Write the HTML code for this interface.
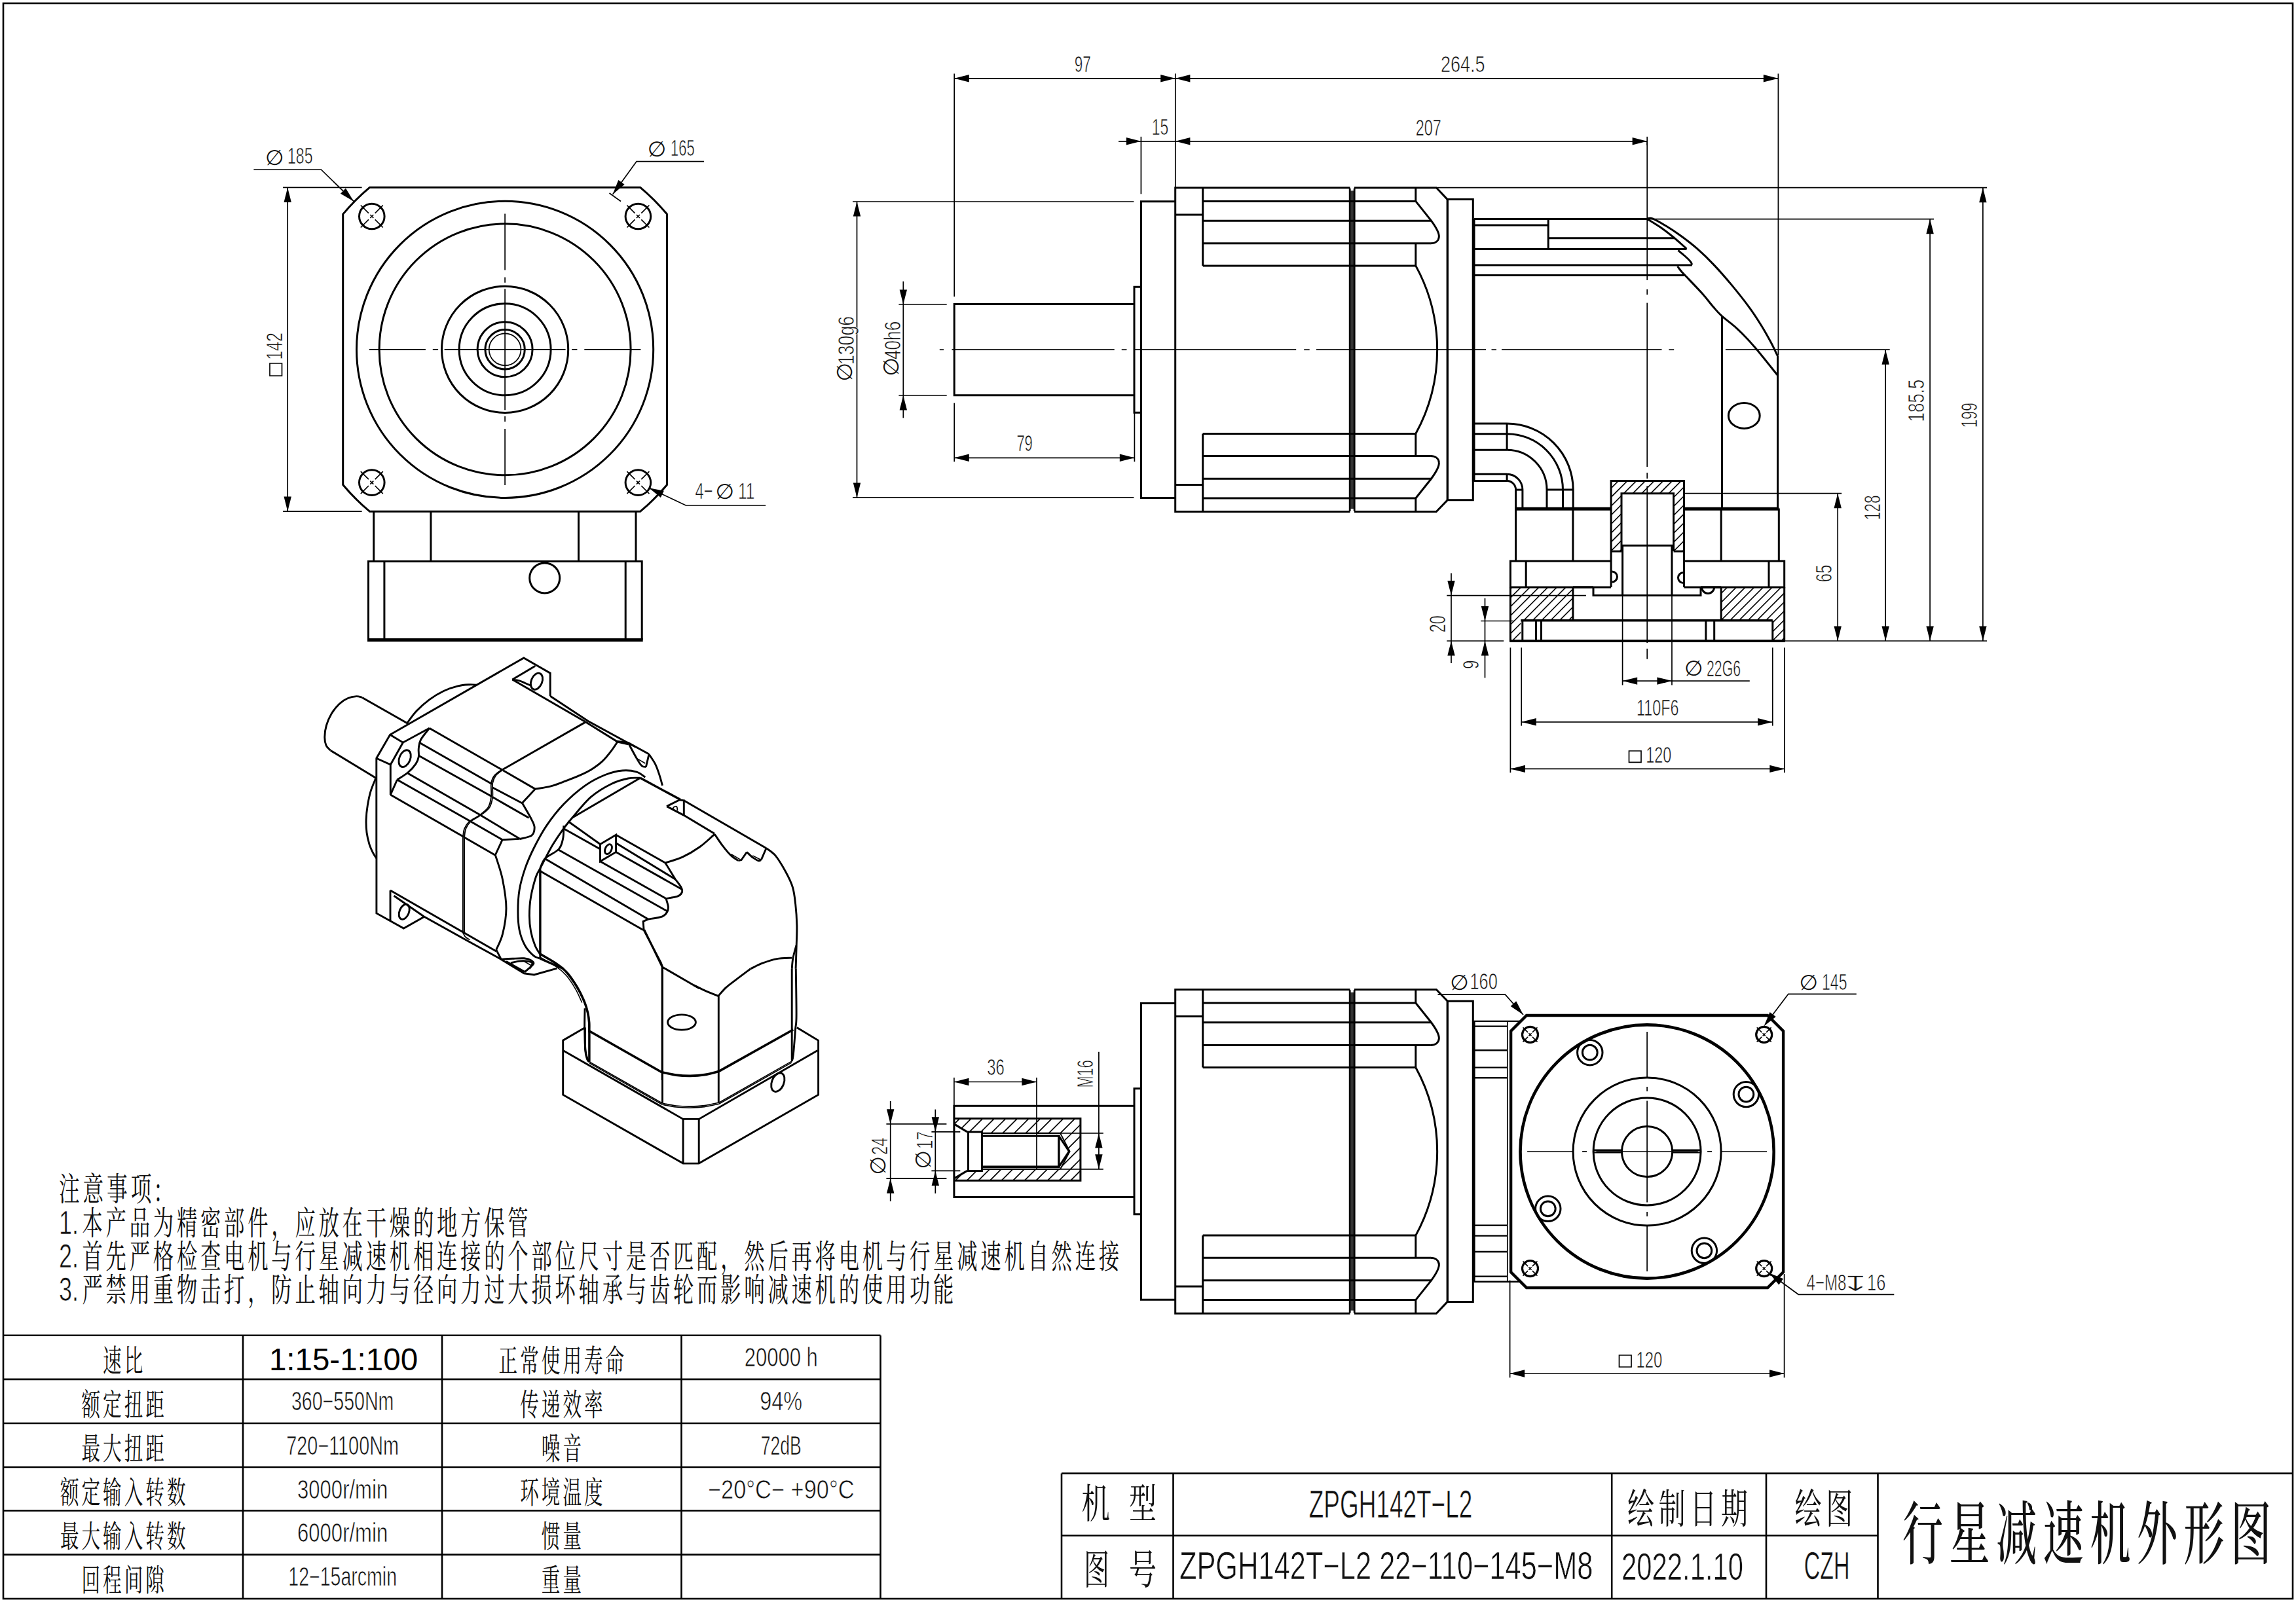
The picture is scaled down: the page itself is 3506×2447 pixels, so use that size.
<!DOCTYPE html>
<html lang="zh"><head><meta charset="utf-8"><title>行星减速机外形图 ZPGH142T-L2</title>
<style>html,body{margin:0;padding:0;background:#fff}svg{display:block}</style></head>
<body>
<svg width="3506" height="2447" viewBox="0 0 3506 2447">
<rect x="0" y="0" width="3506" height="2447" fill="#fff" stroke="none"/>
<g fill="none" stroke="#000" stroke-linecap="butt" stroke-linejoin="miter">
<rect x="5" y="5" width="3496" height="2437" stroke-width="2.6"/>
<path d="M564.4,286.3 L977.8,286.3 A322.4,322.4 0 0 1 1018.5,327.1 L1018.5,740.5 A322.4,322.4 0 0 1 977.8,781.2 L564.4,781.2 A322.4,322.4 0 0 1 523.7,740.5 L523.7,327.1 A322.4,322.4 0 0 1 564.4,286.3 Z" stroke-width="3.0"/>
<circle cx="771.1" cy="533.8" r="226.6" stroke-width="3.0"/>
<circle cx="771.1" cy="533.8" r="192" stroke-width="3.0"/>
<circle cx="771.1" cy="533.8" r="96.6" stroke-width="3.0"/>
<circle cx="771.1" cy="533.8" r="70" stroke-width="3.0"/>
<circle cx="771.1" cy="533.8" r="42" stroke-width="3.0"/>
<circle cx="771.1" cy="533.8" r="30.2" stroke-width="3.0"/>
<circle cx="771.1" cy="533.8" r="24.4" stroke-width="1.7"/>
<circle cx="567.8" cy="330.5" r="19.3" stroke-width="3.0"/>
<line x1="550.8" y1="313.5" x2="562.9" y2="325.6" stroke-width="1.7"/>
<line x1="565.3" y1="328" x2="570.3" y2="333" stroke-width="1.7"/>
<line x1="572.7" y1="335.4" x2="584.8" y2="347.5" stroke-width="1.7"/>
<line x1="550.8" y1="347.5" x2="562.9" y2="335.4" stroke-width="1.7"/>
<line x1="565.3" y1="333" x2="570.3" y2="328" stroke-width="1.7"/>
<line x1="572.7" y1="325.6" x2="584.8" y2="313.5" stroke-width="1.7"/>
<circle cx="567.8" cy="737.1" r="19.3" stroke-width="3.0"/>
<line x1="550.8" y1="720.1" x2="562.9" y2="732.2" stroke-width="1.7"/>
<line x1="565.3" y1="734.6" x2="570.3" y2="739.6" stroke-width="1.7"/>
<line x1="572.7" y1="742" x2="584.8" y2="754.1" stroke-width="1.7"/>
<line x1="550.8" y1="754.1" x2="562.9" y2="742" stroke-width="1.7"/>
<line x1="565.3" y1="739.6" x2="570.3" y2="734.6" stroke-width="1.7"/>
<line x1="572.7" y1="732.2" x2="584.8" y2="720.1" stroke-width="1.7"/>
<circle cx="974.4" cy="330.5" r="19.3" stroke-width="3.0"/>
<line x1="957.4" y1="313.5" x2="969.5" y2="325.6" stroke-width="1.7"/>
<line x1="971.9" y1="328" x2="976.9" y2="333" stroke-width="1.7"/>
<line x1="979.3" y1="335.4" x2="991.4" y2="347.5" stroke-width="1.7"/>
<line x1="957.4" y1="347.5" x2="969.5" y2="335.4" stroke-width="1.7"/>
<line x1="971.9" y1="333" x2="976.9" y2="328" stroke-width="1.7"/>
<line x1="979.3" y1="325.6" x2="991.4" y2="313.5" stroke-width="1.7"/>
<circle cx="974.4" cy="737.1" r="19.3" stroke-width="3.0"/>
<line x1="957.4" y1="720.1" x2="969.5" y2="732.2" stroke-width="1.7"/>
<line x1="971.9" y1="734.6" x2="976.9" y2="739.6" stroke-width="1.7"/>
<line x1="979.3" y1="742" x2="991.4" y2="754.1" stroke-width="1.7"/>
<line x1="957.4" y1="754.1" x2="969.5" y2="742" stroke-width="1.7"/>
<line x1="971.9" y1="739.6" x2="976.9" y2="734.6" stroke-width="1.7"/>
<line x1="979.3" y1="732.2" x2="991.4" y2="720.1" stroke-width="1.7"/>
<line x1="563.8" y1="533.8" x2="649.9" y2="533.8" stroke-width="1.7"/>
<line x1="660.8" y1="533.8" x2="669.1" y2="533.8" stroke-width="1.7"/>
<line x1="678.6" y1="533.8" x2="863.6" y2="533.8" stroke-width="1.7"/>
<line x1="873.1" y1="533.8" x2="881.4" y2="533.8" stroke-width="1.7"/>
<line x1="892.3" y1="533.8" x2="978.4" y2="533.8" stroke-width="1.7"/>
<line x1="771.1" y1="326.5" x2="771.1" y2="412.6" stroke-width="1.7"/>
<line x1="771.1" y1="423.5" x2="771.1" y2="431.8" stroke-width="1.7"/>
<line x1="771.1" y1="441.3" x2="771.1" y2="626.3" stroke-width="1.7"/>
<line x1="771.1" y1="635.8" x2="771.1" y2="644.1" stroke-width="1.7"/>
<line x1="771.1" y1="655" x2="771.1" y2="741.1" stroke-width="1.7"/>
<line x1="570.7" y1="781.2" x2="570.7" y2="857.4" stroke-width="3.0"/>
<line x1="971" y1="781.2" x2="971" y2="857.4" stroke-width="3.0"/>
<line x1="657.9" y1="781.2" x2="657.9" y2="857.4" stroke-width="3.0"/>
<line x1="883.5" y1="781.2" x2="883.5" y2="857.4" stroke-width="3.0"/>
<polyline points="562.5,977 562.5,857.4 980.2,857.4 980.2,977" stroke-width="3.0"/>
<line x1="561" y1="977.6" x2="981.7" y2="977.6" stroke-width="5"/>
<line x1="586.9" y1="857.4" x2="586.9" y2="977" stroke-width="3.0"/>
<line x1="955.2" y1="857.4" x2="955.2" y2="977" stroke-width="3.0"/>
<circle cx="831.7" cy="882.9" r="23" stroke-width="3.0"/>
<line x1="432" y1="286.4" x2="552.6" y2="286.4" stroke-width="1.7"/>
<line x1="432" y1="781.2" x2="552.6" y2="781.2" stroke-width="1.7"/>
<line x1="439.2" y1="286.4" x2="439.2" y2="781.2" stroke-width="1.7"/>
<polygon points="439.2,286.4 444.9,309 433.5,309" fill="#000" stroke="none"/>
<polygon points="439.2,781.2 433.5,758.6 444.9,758.6" fill="#000" stroke="none"/>
<text x="0" y="0" font-family="Liberation Sans, sans-serif" font-size="35.9" fill="#111" stroke="#fff" stroke-width="0.7" textLength="41.7" lengthAdjust="spacingAndGlyphs" transform="translate(431.4 549.8) rotate(-90)">142</text>
<polygon points="412,555 430.5,555 430.5,574 412,574" stroke-width="1.7"/>
<polyline points="387.4,259 490.3,259 540.1,307.4" stroke-width="1.7"/>
<polygon points="540.1,307.4 519.9,295.7 527.9,287.6" fill="#000" stroke="none"/>
<text x="419.5" y="240.5" font-family="DejaVu Sans, Liberation Sans, sans-serif" font-size="32.6" fill="#111" stroke="none" text-anchor="middle" dominant-baseline="central">∅</text>
<text x="439" y="249.8" font-family="Liberation Sans, sans-serif" font-size="35.9" fill="#111" stroke="#fff" stroke-width="0.7" textLength="38.5" lengthAdjust="spacingAndGlyphs">185</text>
<polyline points="1075.1,246.6 972,246.6 935.7,296.8" stroke-width="1.7"/>
<polygon points="935.7,296.8 944.3,275.1 953.6,281.8" fill="#000" stroke="none"/>
<line x1="930.5" y1="295" x2="948" y2="307.5" stroke-width="1.7"/>
<text x="1003.3" y="227.8" font-family="DejaVu Sans, Liberation Sans, sans-serif" font-size="32.6" fill="#111" stroke="none" text-anchor="middle" dominant-baseline="central">∅</text>
<text x="1024" y="237.5" font-family="Liberation Sans, sans-serif" font-size="35.9" fill="#111" stroke="#fff" stroke-width="0.7" textLength="36.6" lengthAdjust="spacingAndGlyphs">165</text>
<polyline points="1169.2,772 1047.3,772 990.9,745.2" stroke-width="1.7"/>
<polygon points="990.9,745.2 1013.8,749.8 1008.9,760" fill="#000" stroke="none"/>
<text x="1061.5" y="762.4" font-family="Liberation Sans, sans-serif" font-size="35.9" fill="#111" stroke="#fff" stroke-width="0.7" textLength="27" lengthAdjust="spacingAndGlyphs">4−</text>
<text x="1107" y="751" font-family="DejaVu Sans, Liberation Sans, sans-serif" font-size="32.6" fill="#111" stroke="none" text-anchor="middle" dominant-baseline="central">∅</text>
<text x="1127" y="762.4" font-family="Liberation Sans, sans-serif" font-size="35.9" fill="#111" stroke="#fff" stroke-width="0.7" textLength="25.5" lengthAdjust="spacingAndGlyphs">11</text>
<polyline points="1742.4,438.2 1732,438.2 1732,630.2 1742.4,630.2" stroke-width="3.0"/>
<polyline points="1794.7,307.8 1742.4,307.8 1742.4,760.6 1794.7,760.6" stroke-width="3.0"/>
<polyline points="2061.5,286.8 1794.7,286.8 1794.7,781.6 2061.5,781.6" stroke-width="3.0"/>
<line x1="2064.7" y1="291.2" x2="2064.7" y2="777.2" stroke-width="5" stroke="#333"/>
<line x1="2061.2" y1="287.7" x2="2061.2" y2="780.7" stroke-width="2.8"/>
<line x1="2068.2" y1="287.7" x2="2068.2" y2="780.7" stroke-width="2.8"/>
<polyline points="2068,286.8 2193.3,286.8 2210.3,304.6 2210.3,763.8 2193.3,781.6 2068,781.6" stroke-width="3.0"/>
<line x1="1836.7" y1="286.8" x2="1836.7" y2="405.9" stroke-width="3.0"/>
<line x1="1794.7" y1="327.9" x2="1836.7" y2="327.9" stroke-width="3.0"/>
<line x1="1836.7" y1="307.4" x2="2161.8" y2="307.4" stroke-width="3.0"/>
<line x1="1836.7" y1="337.2" x2="2185" y2="337.2" stroke-width="3.0"/>
<line x1="1836.7" y1="371.8" x2="2184.5" y2="371.8" stroke-width="3.0"/>
<line x1="1836.7" y1="405.9" x2="2161.8" y2="405.9" stroke-width="3.0"/>
<line x1="2161.8" y1="286.8" x2="2161.8" y2="307.4" stroke-width="3.0"/>
<line x1="2161.8" y1="371.6" x2="2161.8" y2="405.9" stroke-width="3.0"/>
<path d="M2161.8,307.4 L2185.3,336.9 C2192,346 2198,356 2197.3,362 C2196.8,368 2192,371.8 2184.2,371.8" stroke-width="3.0"/>
<line x1="1836.7" y1="781.6" x2="1836.7" y2="662.5" stroke-width="3.0"/>
<line x1="1794.7" y1="740.5" x2="1836.7" y2="740.5" stroke-width="3.0"/>
<line x1="1836.7" y1="761" x2="2161.8" y2="761" stroke-width="3.0"/>
<line x1="1836.7" y1="731.2" x2="2185" y2="731.2" stroke-width="3.0"/>
<line x1="1836.7" y1="696.6" x2="2184.5" y2="696.6" stroke-width="3.0"/>
<line x1="1836.7" y1="662.5" x2="2161.8" y2="662.5" stroke-width="3.0"/>
<line x1="2161.8" y1="781.6" x2="2161.8" y2="761" stroke-width="3.0"/>
<line x1="2161.8" y1="696.8" x2="2161.8" y2="662.5" stroke-width="3.0"/>
<path d="M2161.8,761 L2185.3,731.5 C2192,722.4 2198,712.4 2197.3,706.4 C2196.8,700.4 2192,696.6 2184.2,696.6" stroke-width="3.0"/>
<path d="M2161.8,405.9 A267,267 0 0 1 2161.8,662.5" stroke-width="3.0"/>
<polygon points="2210.3,304.6 2249.3,304.6 2249.3,763.8 2210.3,763.8" stroke-width="3.0"/>
<polyline points="1742.4,1662.8 1732,1662.8 1732,1854.8 1742.4,1854.8" stroke-width="3.0"/>
<polyline points="1794.7,1532.4 1742.4,1532.4 1742.4,1985.2 1794.7,1985.2" stroke-width="3.0"/>
<polyline points="2061.5,1511.4 1794.7,1511.4 1794.7,2006.2 2061.5,2006.2" stroke-width="3.0"/>
<line x1="2064.7" y1="1515.8" x2="2064.7" y2="2001.8" stroke-width="5" stroke="#333"/>
<line x1="2061.2" y1="1512.3" x2="2061.2" y2="2005.3" stroke-width="2.8"/>
<line x1="2068.2" y1="1512.3" x2="2068.2" y2="2005.3" stroke-width="2.8"/>
<polyline points="2068,1511.4 2193.3,1511.4 2210.3,1529.2 2210.3,1988.4 2193.3,2006.2 2068,2006.2" stroke-width="3.0"/>
<line x1="1836.7" y1="1511.4" x2="1836.7" y2="1630.5" stroke-width="3.0"/>
<line x1="1794.7" y1="1552.5" x2="1836.7" y2="1552.5" stroke-width="3.0"/>
<line x1="1836.7" y1="1532" x2="2161.8" y2="1532" stroke-width="3.0"/>
<line x1="1836.7" y1="1561.8" x2="2185" y2="1561.8" stroke-width="3.0"/>
<line x1="1836.7" y1="1596.4" x2="2184.5" y2="1596.4" stroke-width="3.0"/>
<line x1="1836.7" y1="1630.5" x2="2161.8" y2="1630.5" stroke-width="3.0"/>
<line x1="2161.8" y1="1511.4" x2="2161.8" y2="1532" stroke-width="3.0"/>
<line x1="2161.8" y1="1596.2" x2="2161.8" y2="1630.5" stroke-width="3.0"/>
<path d="M2161.8,1532 L2185.3,1561.5 C2192,1570.6 2198,1580.6 2197.3,1586.6 C2196.8,1592.6 2192,1596.4 2184.2,1596.4" stroke-width="3.0"/>
<line x1="1836.7" y1="2006.2" x2="1836.7" y2="1887.1" stroke-width="3.0"/>
<line x1="1794.7" y1="1965.1" x2="1836.7" y2="1965.1" stroke-width="3.0"/>
<line x1="1836.7" y1="1985.6" x2="2161.8" y2="1985.6" stroke-width="3.0"/>
<line x1="1836.7" y1="1955.8" x2="2185" y2="1955.8" stroke-width="3.0"/>
<line x1="1836.7" y1="1921.2" x2="2184.5" y2="1921.2" stroke-width="3.0"/>
<line x1="1836.7" y1="1887.1" x2="2161.8" y2="1887.1" stroke-width="3.0"/>
<line x1="2161.8" y1="2006.2" x2="2161.8" y2="1985.6" stroke-width="3.0"/>
<line x1="2161.8" y1="1921.4" x2="2161.8" y2="1887.1" stroke-width="3.0"/>
<path d="M2161.8,1985.6 L2185.3,1956.1 C2192,1947 2198,1937 2197.3,1931 C2196.8,1925 2192,1921.2 2184.2,1921.2" stroke-width="3.0"/>
<path d="M2161.8,1630.5 A267,267 0 0 1 2161.8,1887.1" stroke-width="3.0"/>
<polygon points="2210.3,1529.2 2249.3,1529.2 2249.3,1988.4 2210.3,1988.4" stroke-width="3.0"/>
<polyline points="1732,464.6 1457.2,464.6 1457.2,603.8 1732,603.8" stroke-width="3.0"/>
<line x1="1434.8" y1="534.2" x2="1441" y2="534.2" stroke-width="1.7"/>
<line x1="1453.5" y1="534.2" x2="1701.7" y2="534.2" stroke-width="1.7"/>
<line x1="1712.7" y1="534.2" x2="1720.5" y2="534.2" stroke-width="1.7"/>
<line x1="1733" y1="534.2" x2="1979.2" y2="534.2" stroke-width="1.7"/>
<line x1="1991.2" y1="534.2" x2="1999.7" y2="534.2" stroke-width="1.7"/>
<line x1="2010" y1="534.2" x2="2269" y2="534.2" stroke-width="1.7"/>
<line x1="2277.5" y1="534.2" x2="2285" y2="534.2" stroke-width="1.7"/>
<line x1="2293" y1="534.2" x2="2537.5" y2="534.2" stroke-width="1.7"/>
<line x1="2548.4" y1="534.2" x2="2556.2" y2="534.2" stroke-width="1.7"/>
<line x1="2250.2" y1="334.6" x2="2250.2" y2="735.7" stroke-width="4.6"/>
<line x1="2251" y1="334.6" x2="2515.6" y2="334.6" stroke-width="3.0"/>
<line x1="2251" y1="344" x2="2364.2" y2="344" stroke-width="3.0"/>
<line x1="2364.2" y1="334.6" x2="2364.2" y2="380.5" stroke-width="3.0"/>
<line x1="2364.2" y1="363.7" x2="2556" y2="363.7" stroke-width="3.0"/>
<line x1="2251" y1="380.5" x2="2575.5" y2="380.5" stroke-width="3.0"/>
<line x1="2251" y1="404.9" x2="2583.8" y2="404.9" stroke-width="3.0"/>
<line x1="2251" y1="420.5" x2="2572.5" y2="420.5" stroke-width="3.0"/>
<path d="M2515.3,334.1 C2516.7,334 2518.7,332 2523.5,333.9 C2528.3,335.8 2537.2,341 2544.3,345.3 C2551.4,349.6 2558.2,354.1 2566,359.8 C2573.9,365.5 2582.9,372.3 2591.4,379.7 C2599.8,387.1 2608,394.9 2616.7,404.1 C2625.5,413.3 2634.8,424 2643.9,434.9 C2652.9,445.8 2663.5,459 2671,469.3 C2678.6,479.6 2683.7,487.7 2689.1,496.5 C2694.6,505.2 2699.4,514 2703.6,521.8 C2707.8,529.6 2712.4,539.6 2714.1,543.2" stroke-width="3.0"/>
<line x1="2714.6" y1="542.6" x2="2714.6" y2="776.3" stroke-width="3.0"/>
<path d="M2515.3,334.4 C2518.7,336.6 2528.9,342.7 2535.3,347.1 C2541.6,351.5 2548.2,356.6 2553.4,360.7 C2558.5,364.8 2562.4,368.3 2566,371.5 C2569.7,374.8 2573.9,378.6 2575.4,380.1" stroke-width="3.0"/>
<path d="M2562.4,382.4 C2564.2,383.9 2570.1,388.6 2573.3,391.5 C2576.4,394.3 2579.7,397.4 2581.4,399.6 C2583.2,401.8 2583.4,403.7 2583.8,404.5" stroke-width="3.0"/>
<path d="M2561.5,406.9 C2562.6,408.2 2565.9,412.7 2567.8,415 C2569.8,417.3 2568.1,415.4 2573.3,420.8 C2578.4,426.2 2591.4,439.5 2598.6,447.6 C2605.9,455.7 2611.6,463.4 2616.7,469.3 C2621.8,475.2 2623.4,477.4 2629.4,482.9 C2635.4,488.4 2644.5,494.3 2652.9,502.3 C2661.4,510.2 2669.9,519.1 2680.1,530.9 C2690.3,542.6 2708.4,565.9 2714.1,572.9" stroke-width="3.0"/>
<line x1="2629.5" y1="483.5" x2="2629.5" y2="776.3" stroke-width="3.0"/>
<ellipse cx="2663.3" cy="634.9" rx="23.9" ry="19.5" stroke-width="3.0"/>
<line x1="2251" y1="647" x2="2301.1" y2="647" stroke-width="3.0"/>
<line x1="2251" y1="662.7" x2="2301.1" y2="662.7" stroke-width="3.0"/>
<line x1="2251" y1="687.2" x2="2301.1" y2="687.2" stroke-width="3.0"/>
<line x1="2251" y1="724.3" x2="2301.1" y2="724.3" stroke-width="3.0"/>
<line x1="2251" y1="734.6" x2="2301.1" y2="734.6" stroke-width="3.0"/>
<line x1="2301.1" y1="647" x2="2301.1" y2="687.2" stroke-width="3.0"/>
<line x1="2301.1" y1="724.3" x2="2301.1" y2="734.6" stroke-width="3.0"/>
<path d="M2301.1,647 A101.1,101.1 0 0 1 2402.2,748.1" stroke-width="3.0"/>
<line x1="2402.2" y1="748.1" x2="2402.2" y2="776.5" stroke-width="3.0"/>
<path d="M2301.1,662.7 A85.4,85.4 0 0 1 2386.5,748.1" stroke-width="3.0"/>
<line x1="2386.5" y1="748.1" x2="2386.5" y2="776.5" stroke-width="3.0"/>
<path d="M2301.1,687.2 A60.9,60.9 0 0 1 2362,748.1" stroke-width="3.0"/>
<line x1="2362" y1="748.1" x2="2362" y2="776.5" stroke-width="3.0"/>
<path d="M2301.1,724.3 A23.8,23.8 0 0 1 2324.9,748.1" stroke-width="3.0"/>
<line x1="2324.9" y1="748.1" x2="2324.9" y2="776.5" stroke-width="3.0"/>
<path d="M2301.1,734.6 A13.5,13.5 0 0 1 2314.6,748.1" stroke-width="3.0"/>
<line x1="2314.6" y1="748.1" x2="2314.6" y2="776.5" stroke-width="3.0"/>
<line x1="2314.6" y1="748.1" x2="2324.9" y2="748.1" stroke-width="3.0"/>
<line x1="2362" y1="748.1" x2="2402.2" y2="748.1" stroke-width="3.0"/>
<line x1="2313.2" y1="777.2" x2="2461" y2="777.2" stroke-width="5"/>
<line x1="2570.9" y1="777.2" x2="2716.3" y2="777.2" stroke-width="5"/>
<line x1="2314.6" y1="776.5" x2="2314.6" y2="857.1" stroke-width="3.0"/>
<line x1="2716.3" y1="776.5" x2="2716.3" y2="857.1" stroke-width="3.0"/>
<line x1="2401.9" y1="776.5" x2="2401.9" y2="857.1" stroke-width="3.0"/>
<line x1="2628.2" y1="776.5" x2="2628.2" y2="857.1" stroke-width="3.0"/>
<clipPath id="h1"><polygon points="2460.1,734.6 2571.5,734.6 2571.5,842.1 2555.6,842.1 2555.6,753.7 2476,753.7 2476,842.1 2460.1,842.1"/></clipPath>
<g clip-path="url(#h1)" stroke-width="1.6"><line x1="2350" y1="842.1" x2="2457.5" y2="734.6"/><line x1="2363.7" y1="842.1" x2="2471.2" y2="734.6"/><line x1="2377.4" y1="842.1" x2="2484.9" y2="734.6"/><line x1="2391.1" y1="842.1" x2="2498.6" y2="734.6"/><line x1="2404.8" y1="842.1" x2="2512.3" y2="734.6"/><line x1="2418.5" y1="842.1" x2="2526" y2="734.6"/><line x1="2432.2" y1="842.1" x2="2539.7" y2="734.6"/><line x1="2445.9" y1="842.1" x2="2553.4" y2="734.6"/><line x1="2459.6" y1="842.1" x2="2567.1" y2="734.6"/><line x1="2473.3" y1="842.1" x2="2580.8" y2="734.6"/><line x1="2487" y1="842.1" x2="2594.5" y2="734.6"/><line x1="2500.7" y1="842.1" x2="2608.2" y2="734.6"/><line x1="2514.4" y1="842.1" x2="2621.9" y2="734.6"/><line x1="2528.1" y1="842.1" x2="2635.6" y2="734.6"/><line x1="2541.8" y1="842.1" x2="2649.3" y2="734.6"/><line x1="2555.5" y1="842.1" x2="2663" y2="734.6"/><line x1="2569.2" y1="842.1" x2="2676.7" y2="734.6"/></g>
<polyline points="2460.1,896.9 2460.1,734.6 2571.5,734.6 2571.5,896.9" stroke-width="3.0"/>
<polyline points="2476,842.1 2476,753.7 2555.6,753.7 2555.6,842.1" stroke-width="3.0"/>
<line x1="2460.1" y1="842.1" x2="2476" y2="842.1" stroke-width="3.0"/>
<line x1="2555.6" y1="842.1" x2="2571.5" y2="842.1" stroke-width="3.0"/>
<line x1="2476" y1="833.2" x2="2555.6" y2="833.2" stroke-width="3.0"/>
<line x1="2477.6" y1="833.2" x2="2477.6" y2="909.6" stroke-width="3.0"/>
<line x1="2553" y1="833.2" x2="2553" y2="909.6" stroke-width="3.0"/>
<line x1="2477.6" y1="909.6" x2="2477.6" y2="1046.5" stroke-width="1.7"/>
<line x1="2553" y1="909.6" x2="2553" y2="1046.5" stroke-width="1.7"/>
<polyline points="2460.1,857.1 2306.4,857.1 2306.4,896.9 2460.1,896.9" stroke-width="3.0"/>
<polyline points="2571.5,857.1 2724.7,857.1 2724.7,896.9 2571.5,896.9" stroke-width="3.0"/>
<line x1="2330.2" y1="857.1" x2="2330.2" y2="896.9" stroke-width="3.0"/>
<line x1="2701" y1="857.1" x2="2701" y2="896.9" stroke-width="3.0"/>
<path d="M2461.5,873 A8,8 0 0 1 2461.5,889" stroke-width="3.0"/>
<path d="M2570.5,874.5 A8,8 0 0 0 2570.5,890.5" stroke-width="3.0"/>
<path d="M2598.6,896.9 A9.5,9.5 0 0 0 2617.6,896.9" stroke-width="3.0"/>
<clipPath id="h2"><polygon points="2306.4,896.9 2401.9,896.9 2401.9,947.8 2322.3,947.8 2322.3,979 2306.4,979"/></clipPath>
<g clip-path="url(#h2)" stroke-width="1.6"><line x1="2213.1" y1="979" x2="2295.2" y2="896.9"/><line x1="2226.8" y1="979" x2="2308.9" y2="896.9"/><line x1="2240.5" y1="979" x2="2322.6" y2="896.9"/><line x1="2254.2" y1="979" x2="2336.3" y2="896.9"/><line x1="2267.9" y1="979" x2="2350" y2="896.9"/><line x1="2281.6" y1="979" x2="2363.7" y2="896.9"/><line x1="2295.3" y1="979" x2="2377.4" y2="896.9"/><line x1="2309" y1="979" x2="2391.1" y2="896.9"/><line x1="2322.7" y1="979" x2="2404.8" y2="896.9"/><line x1="2336.4" y1="979" x2="2418.5" y2="896.9"/><line x1="2350.1" y1="979" x2="2432.2" y2="896.9"/><line x1="2363.8" y1="979" x2="2445.9" y2="896.9"/></g>
<clipPath id="h3"><polygon points="2628.2,896.9 2724.7,896.9 2724.7,979 2706.8,979 2706.8,947.8 2628.2,947.8"/></clipPath>
<g clip-path="url(#h3)" stroke-width="1.6"><line x1="2541.9" y1="979" x2="2624" y2="896.9"/><line x1="2555.6" y1="979" x2="2637.7" y2="896.9"/><line x1="2569.3" y1="979" x2="2651.4" y2="896.9"/><line x1="2583" y1="979" x2="2665.1" y2="896.9"/><line x1="2596.7" y1="979" x2="2678.8" y2="896.9"/><line x1="2610.4" y1="979" x2="2692.5" y2="896.9"/><line x1="2624.1" y1="979" x2="2706.2" y2="896.9"/><line x1="2637.8" y1="979" x2="2719.9" y2="896.9"/><line x1="2651.5" y1="979" x2="2733.6" y2="896.9"/><line x1="2665.2" y1="979" x2="2747.3" y2="896.9"/><line x1="2678.9" y1="979" x2="2761" y2="896.9"/><line x1="2692.6" y1="979" x2="2774.7" y2="896.9"/><line x1="2706.3" y1="979" x2="2788.4" y2="896.9"/><line x1="2720" y1="979" x2="2802.1" y2="896.9"/></g>
<polyline points="2306.4,896.9 2306.4,979" stroke-width="3.0"/>
<polyline points="2724.7,896.9 2724.7,979" stroke-width="3.0"/>
<line x1="2401.9" y1="896.9" x2="2401.9" y2="947.8" stroke-width="3.0"/>
<line x1="2628.2" y1="896.9" x2="2628.2" y2="947.8" stroke-width="3.0"/>
<line x1="2401.9" y1="896.9" x2="2433" y2="896.9" stroke-width="3.0"/>
<line x1="2597" y1="896.9" x2="2628.2" y2="896.9" stroke-width="3.0"/>
<polyline points="2433,896.9 2433,909.6 2597,909.6 2597,896.9" stroke-width="3.0"/>
<line x1="2322.3" y1="947.8" x2="2706.8" y2="947.8" stroke-width="3.4"/>
<line x1="2305" y1="979" x2="2726" y2="979" stroke-width="4"/>
<line x1="2324.8" y1="947.8" x2="2324.8" y2="979" stroke-width="3.0"/>
<line x1="2345.5" y1="947.8" x2="2345.5" y2="979" stroke-width="3.0"/>
<line x1="2353.5" y1="947.8" x2="2353.5" y2="979" stroke-width="3.0"/>
<line x1="2604.9" y1="947.8" x2="2604.9" y2="979" stroke-width="3.0"/>
<line x1="2617.7" y1="947.8" x2="2617.7" y2="979" stroke-width="3.0"/>
<line x1="2706.8" y1="947.8" x2="2706.8" y2="979" stroke-width="3.0"/>
<line x1="2515.2" y1="215.8" x2="2515.2" y2="428" stroke-width="1.7"/>
<line x1="2515.2" y1="442" x2="2515.2" y2="450" stroke-width="1.7"/>
<line x1="2515.2" y1="462.6" x2="2515.2" y2="713" stroke-width="1.7"/>
<line x1="2515.2" y1="722" x2="2515.2" y2="731" stroke-width="1.7"/>
<line x1="2515.2" y1="742.5" x2="2515.2" y2="982" stroke-width="1.7"/>
<line x1="2515.2" y1="990.8" x2="2515.2" y2="1006.7" stroke-width="1.7"/>
<line x1="1457.2" y1="112.4" x2="1457.2" y2="453" stroke-width="1.7"/>
<line x1="1794.8" y1="112.4" x2="1794.8" y2="287" stroke-width="1.7"/>
<line x1="2715.4" y1="112.4" x2="2715.4" y2="542" stroke-width="1.7"/>
<line x1="1457.2" y1="119.8" x2="2715.4" y2="119.8" stroke-width="1.7"/>
<polygon points="1457.2,119.8 1479.8,114.1 1479.8,125.5" fill="#000" stroke="none"/>
<polygon points="1794.8,119.8 1772.2,125.5 1772.2,114.1" fill="#000" stroke="none"/>
<polygon points="1794.8,119.8 1817.4,114.1 1817.4,125.5" fill="#000" stroke="none"/>
<polygon points="2715.4,119.8 2692.8,125.5 2692.8,114.1" fill="#000" stroke="none"/>
<text x="1640.8" y="109.8" font-family="Liberation Sans, sans-serif" font-size="35.9" fill="#111" stroke="#fff" stroke-width="0.7" textLength="25.1" lengthAdjust="spacingAndGlyphs">97</text>
<text x="2199.9" y="110.2" font-family="Liberation Sans, sans-serif" font-size="35.9" fill="#111" stroke="#fff" stroke-width="0.7" textLength="67.8" lengthAdjust="spacingAndGlyphs">264.5</text>
<line x1="1742.4" y1="208.8" x2="1742.4" y2="296.3" stroke-width="1.7"/>
<line x1="1708" y1="215.8" x2="2515.2" y2="215.8" stroke-width="1.7"/>
<polygon points="1742.4,215.8 1719.8,221.5 1719.8,210.1" fill="#000" stroke="none"/>
<polygon points="1794.8,215.8 1817.4,210.1 1817.4,221.5" fill="#000" stroke="none"/>
<polygon points="2515.2,215.8 2492.6,221.5 2492.6,210.1" fill="#000" stroke="none"/>
<line x1="2515.2" y1="208.8" x2="2515.2" y2="222" stroke-width="1.7"/>
<text x="1758.8" y="206.1" font-family="Liberation Sans, sans-serif" font-size="35.9" fill="#111" stroke="#fff" stroke-width="0.7" textLength="25.4" lengthAdjust="spacingAndGlyphs">15</text>
<text x="2161.7" y="206.8" font-family="Liberation Sans, sans-serif" font-size="35.9" fill="#111" stroke="#fff" stroke-width="0.7" textLength="39.1" lengthAdjust="spacingAndGlyphs">207</text>
<line x1="1302" y1="308" x2="1731.4" y2="308" stroke-width="1.7"/>
<line x1="1302" y1="760.2" x2="1731.4" y2="760.2" stroke-width="1.7"/>
<line x1="1308.5" y1="308" x2="1308.5" y2="760.2" stroke-width="1.7"/>
<polygon points="1308.5,308 1314.2,330.6 1302.8,330.6" fill="#000" stroke="none"/>
<polygon points="1308.5,760.2 1302.8,737.6 1314.2,737.6" fill="#000" stroke="none"/>
<text x="0" y="0" font-family="Liberation Sans, sans-serif" font-size="35.9" fill="#111" stroke="#fff" stroke-width="0.7" textLength="74" lengthAdjust="spacingAndGlyphs" transform="translate(1303.9 557) rotate(-90)">130g6</text>
<text x="0" y="0" font-family="DejaVu Sans, Liberation Sans, sans-serif" font-size="32.6" fill="#111" stroke="none" text-anchor="middle" transform="translate(1290 568) rotate(-90)" dominant-baseline="central">∅</text>
<line x1="1372.4" y1="465" x2="1445.7" y2="465" stroke-width="1.7"/>
<line x1="1372.4" y1="604" x2="1445.7" y2="604" stroke-width="1.7"/>
<line x1="1379.3" y1="429.8" x2="1379.3" y2="638.4" stroke-width="1.7"/>
<polygon points="1379.3,465 1373.6,442.4 1385,442.4" fill="#000" stroke="none"/>
<polygon points="1379.3,604 1385,626.6 1373.6,626.6" fill="#000" stroke="none"/>
<text x="0" y="0" font-family="Liberation Sans, sans-serif" font-size="35.9" fill="#111" stroke="#fff" stroke-width="0.7" textLength="58.2" lengthAdjust="spacingAndGlyphs" transform="translate(1374.9 549) rotate(-90)">40h6</text>
<text x="0" y="0" font-family="DejaVu Sans, Liberation Sans, sans-serif" font-size="32.6" fill="#111" stroke="none" text-anchor="middle" transform="translate(1361 560) rotate(-90)" dominant-baseline="central">∅</text>
<line x1="1457.2" y1="615.6" x2="1457.2" y2="705.2" stroke-width="1.7"/>
<line x1="1732.4" y1="630" x2="1732.4" y2="705.2" stroke-width="1.7"/>
<line x1="1457.2" y1="699.3" x2="1732.4" y2="699.3" stroke-width="1.7"/>
<polygon points="1457.2,699.3 1479.8,693.6 1479.8,705" fill="#000" stroke="none"/>
<polygon points="1732.4,699.3 1709.8,705 1709.8,693.6" fill="#000" stroke="none"/>
<text x="1552.4" y="689.4" font-family="Liberation Sans, sans-serif" font-size="35.9" fill="#111" stroke="#fff" stroke-width="0.7" textLength="24.4" lengthAdjust="spacingAndGlyphs">79</text>
<line x1="2195" y1="286.6" x2="3034" y2="286.6" stroke-width="1.7"/>
<line x1="2516" y1="334.6" x2="2953.1" y2="334.6" stroke-width="1.7"/>
<line x1="2634.9" y1="534.2" x2="2885.7" y2="534.2" stroke-width="1.7"/>
<line x1="2571.5" y1="753.7" x2="2812.2" y2="753.7" stroke-width="1.7"/>
<line x1="2726" y1="979" x2="3034" y2="979" stroke-width="1.7"/>
<line x1="3027.9" y1="286.6" x2="3027.9" y2="979" stroke-width="1.7"/>
<polygon points="3027.9,286.6 3033.6,309.2 3022.2,309.2" fill="#000" stroke="none"/>
<polygon points="3027.9,979 3022.2,956.4 3033.6,956.4" fill="#000" stroke="none"/>
<line x1="2947.1" y1="334.6" x2="2947.1" y2="979" stroke-width="1.7"/>
<polygon points="2947.1,334.6 2952.8,357.2 2941.4,357.2" fill="#000" stroke="none"/>
<polygon points="2947.1,979 2941.4,956.4 2952.8,956.4" fill="#000" stroke="none"/>
<line x1="2879.2" y1="534.2" x2="2879.2" y2="979" stroke-width="1.7"/>
<polygon points="2879.2,534.2 2884.9,556.8 2873.5,556.8" fill="#000" stroke="none"/>
<polygon points="2879.2,979 2873.5,956.4 2884.9,956.4" fill="#000" stroke="none"/>
<line x1="2806.2" y1="753.7" x2="2806.2" y2="979" stroke-width="1.7"/>
<polygon points="2806.2,753.7 2811.9,776.3 2800.5,776.3" fill="#000" stroke="none"/>
<polygon points="2806.2,979 2800.5,956.4 2811.9,956.4" fill="#000" stroke="none"/>
<text x="0" y="0" font-family="Liberation Sans, sans-serif" font-size="35.9" fill="#111" stroke="#fff" stroke-width="0.7" textLength="38.5" lengthAdjust="spacingAndGlyphs" transform="translate(3019.1 653.6) rotate(-90)">199</text>
<text x="0" y="0" font-family="Liberation Sans, sans-serif" font-size="35.9" fill="#111" stroke="#fff" stroke-width="0.7" textLength="64.9" lengthAdjust="spacingAndGlyphs" transform="translate(2938.3 644.4) rotate(-90)">185.5</text>
<text x="0" y="0" font-family="Liberation Sans, sans-serif" font-size="35.9" fill="#111" stroke="#fff" stroke-width="0.7" textLength="38.1" lengthAdjust="spacingAndGlyphs" transform="translate(2871.3 794.5) rotate(-90)">128</text>
<text x="0" y="0" font-family="Liberation Sans, sans-serif" font-size="35.9" fill="#111" stroke="#fff" stroke-width="0.7" textLength="26.5" lengthAdjust="spacingAndGlyphs" transform="translate(2797.4 889.2) rotate(-90)">65</text>
<line x1="2209.3" y1="909.6" x2="2421.9" y2="909.6" stroke-width="1.7"/>
<line x1="2209.3" y1="979" x2="2296.2" y2="979" stroke-width="1.7"/>
<line x1="2216" y1="875.6" x2="2216" y2="1013" stroke-width="1.7"/>
<polygon points="2216,909.6 2210.3,887 2221.7,887" fill="#000" stroke="none"/>
<polygon points="2216,979 2221.7,1001.6 2210.3,1001.6" fill="#000" stroke="none"/>
<line x1="2261.2" y1="948.5" x2="2311.1" y2="948.5" stroke-width="1.7"/>
<line x1="2267.5" y1="913.8" x2="2267.5" y2="1035.4" stroke-width="1.7"/>
<polygon points="2267.5,948.5 2261.8,925.9 2273.2,925.9" fill="#000" stroke="none"/>
<polygon points="2267.5,979 2273.2,1001.6 2261.8,1001.6" fill="#000" stroke="none"/>
<text x="0" y="0" font-family="Liberation Sans, sans-serif" font-size="35.9" fill="#111" stroke="#fff" stroke-width="0.7" textLength="26.3" lengthAdjust="spacingAndGlyphs" transform="translate(2207.4 966.3) rotate(-90)">20</text>
<text x="0" y="0" font-family="Liberation Sans, sans-serif" font-size="35.9" fill="#111" stroke="#fff" stroke-width="0.7" textLength="13.6" lengthAdjust="spacingAndGlyphs" transform="translate(2258.4 1022) rotate(-90)">9</text>
<line x1="2477.6" y1="1040.1" x2="2671.8" y2="1040.1" stroke-width="1.7"/>
<polygon points="2477.6,1040.1 2500.2,1034.4 2500.2,1045.8" fill="#000" stroke="none"/>
<polygon points="2553,1040.1 2530.4,1045.8 2530.4,1034.4" fill="#000" stroke="none"/>
<text x="2586.5" y="1020.5" font-family="DejaVu Sans, Liberation Sans, sans-serif" font-size="32.6" fill="#111" stroke="none" text-anchor="middle" dominant-baseline="central">∅</text>
<text x="2606" y="1032.6" font-family="Liberation Sans, sans-serif" font-size="35.9" fill="#111" stroke="#fff" stroke-width="0.7" textLength="52" lengthAdjust="spacingAndGlyphs">22G6</text>
<line x1="2323.2" y1="989.2" x2="2323.2" y2="1108.6" stroke-width="1.7"/>
<line x1="2706.8" y1="989.2" x2="2706.8" y2="1108.6" stroke-width="1.7"/>
<line x1="2323.2" y1="1102.8" x2="2706.8" y2="1102.8" stroke-width="1.7"/>
<polygon points="2323.2,1102.8 2345.8,1097.1 2345.8,1108.5" fill="#000" stroke="none"/>
<polygon points="2706.8,1102.8 2684.2,1108.5 2684.2,1097.1" fill="#000" stroke="none"/>
<text x="2498.9" y="1093" font-family="Liberation Sans, sans-serif" font-size="35.9" fill="#111" stroke="#fff" stroke-width="0.7" textLength="64.6" lengthAdjust="spacingAndGlyphs">110F6</text>
<line x1="2306.4" y1="989.2" x2="2306.4" y2="1180.2" stroke-width="1.7"/>
<line x1="2724.9" y1="989.2" x2="2724.9" y2="1180.2" stroke-width="1.7"/>
<line x1="2306.4" y1="1174.4" x2="2724.9" y2="1174.4" stroke-width="1.7"/>
<polygon points="2306.4,1174.4 2329,1168.7 2329,1180.1" fill="#000" stroke="none"/>
<polygon points="2724.9,1174.4 2702.3,1180.1 2702.3,1168.7" fill="#000" stroke="none"/>
<polygon points="2487.5,1147 2506,1147 2506,1164.3 2487.5,1164.3" stroke-width="1.7"/>
<text x="2513.2" y="1164.7" font-family="Liberation Sans, sans-serif" font-size="35.9" fill="#111" stroke="#fff" stroke-width="0.7" textLength="39.1" lengthAdjust="spacingAndGlyphs">120</text>
<polyline points="1732,1689.2 1456.9,1689.2 1456.9,1828.4 1732,1828.4" stroke-width="3.0"/>
<clipPath id="h4"><polygon points="1456.9,1708.6 1649.9,1708.6 1649.9,1803.3 1456.9,1803.3 1456.9,1800.1 1476.8,1788.4 1499.4,1788.4 1499.4,1785.9 1619,1785.9 1633.5,1758.7 1619,1730.9 1499.4,1730.9 1499.4,1728.9 1476.8,1728.9 1456.9,1716.9"/></clipPath>
<g clip-path="url(#h4)" stroke-width="1.7"><line x1="1353.1" y1="1803.3" x2="1447.8" y2="1708.6"/><line x1="1370.7" y1="1803.3" x2="1465.4" y2="1708.6"/><line x1="1388.3" y1="1803.3" x2="1483" y2="1708.6"/><line x1="1405.9" y1="1803.3" x2="1500.6" y2="1708.6"/><line x1="1423.5" y1="1803.3" x2="1518.2" y2="1708.6"/><line x1="1441.1" y1="1803.3" x2="1535.8" y2="1708.6"/><line x1="1458.7" y1="1803.3" x2="1553.4" y2="1708.6"/><line x1="1476.3" y1="1803.3" x2="1571" y2="1708.6"/><line x1="1493.9" y1="1803.3" x2="1588.6" y2="1708.6"/><line x1="1511.5" y1="1803.3" x2="1606.2" y2="1708.6"/><line x1="1529.1" y1="1803.3" x2="1623.8" y2="1708.6"/><line x1="1546.7" y1="1803.3" x2="1641.4" y2="1708.6"/><line x1="1564.3" y1="1803.3" x2="1659" y2="1708.6"/><line x1="1581.9" y1="1803.3" x2="1676.6" y2="1708.6"/><line x1="1599.5" y1="1803.3" x2="1694.2" y2="1708.6"/><line x1="1617.1" y1="1803.3" x2="1711.8" y2="1708.6"/><line x1="1634.7" y1="1803.3" x2="1729.4" y2="1708.6"/></g>
<polyline points="1456.9,1708.6 1649.9,1708.6 1649.9,1803.3 1456.9,1803.3" stroke-width="3.0"/>
<line x1="1456.9" y1="1716.9" x2="1476.8" y2="1728.9" stroke-width="3.0"/>
<line x1="1456.9" y1="1800.1" x2="1476.8" y2="1788.4" stroke-width="3.0"/>
<polyline points="1476.8,1728.9 1499.4,1728.9 1499.4,1788.4 1476.8,1788.4" stroke-width="3.0"/>
<line x1="1478.5" y1="1728.9" x2="1478.5" y2="1788.4" stroke-width="3.0"/>
<line x1="1499.4" y1="1730.9" x2="1619" y2="1730.9" stroke-width="2.2"/>
<line x1="1499.4" y1="1785.9" x2="1619" y2="1785.9" stroke-width="2.2"/>
<polyline points="1499.4,1735.1 1616.9,1735.1 1616.9,1782.2 1499.4,1782.2" stroke-width="3.4"/>
<polyline points="1616.9,1735.1 1632.5,1758.7 1616.9,1782.2" stroke-width="3.0"/>
<polyline points="1619,1730.9 1633.5,1758.7 1619,1785.9" stroke-width="2"/>
<line x1="1456.9" y1="1645.9" x2="1456.9" y2="1689" stroke-width="1.7"/>
<line x1="1583" y1="1645.9" x2="1583" y2="1785.9" stroke-width="1.7"/>
<line x1="1456.9" y1="1652.5" x2="1583" y2="1652.5" stroke-width="1.7"/>
<polygon points="1456.9,1652.5 1479.5,1646.8 1479.5,1658.2" fill="#000" stroke="none"/>
<polygon points="1583,1652.5 1560.4,1658.2 1560.4,1646.8" fill="#000" stroke="none"/>
<text x="1507.2" y="1642.1" font-family="Liberation Sans, sans-serif" font-size="35.9" fill="#111" stroke="#fff" stroke-width="0.7" textLength="26.5" lengthAdjust="spacingAndGlyphs">36</text>
<line x1="1616.9" y1="1730.9" x2="1684.8" y2="1730.9" stroke-width="1.7"/>
<line x1="1616.9" y1="1785.9" x2="1684.8" y2="1785.9" stroke-width="1.7"/>
<line x1="1677.9" y1="1606.8" x2="1677.9" y2="1785.9" stroke-width="1.7"/>
<polygon points="1677.9,1730.9 1683.6,1753.5 1672.2,1753.5" fill="#000" stroke="none"/>
<polygon points="1677.9,1785.9 1672.2,1763.3 1683.6,1763.3" fill="#000" stroke="none"/>
<text x="0" y="0" font-family="Liberation Sans, sans-serif" font-size="35.9" fill="#111" stroke="#fff" stroke-width="0.7" textLength="42.2" lengthAdjust="spacingAndGlyphs" transform="translate(1668.5 1661.5) rotate(-90)">M16</text>
<line x1="1353.4" y1="1716.9" x2="1445.4" y2="1716.9" stroke-width="1.7"/>
<line x1="1353.4" y1="1800.1" x2="1445.4" y2="1800.1" stroke-width="1.7"/>
<line x1="1359.7" y1="1682" x2="1359.7" y2="1835" stroke-width="1.7"/>
<polygon points="1359.7,1716.9 1354,1694.3 1365.4,1694.3" fill="#000" stroke="none"/>
<polygon points="1359.7,1800.1 1365.4,1822.7 1354,1822.7" fill="#000" stroke="none"/>
<text x="0" y="0" font-family="Liberation Sans, sans-serif" font-size="35.9" fill="#111" stroke="#fff" stroke-width="0.7" textLength="26.6" lengthAdjust="spacingAndGlyphs" transform="translate(1354.9 1764) rotate(-90)">24</text>
<text x="0" y="0" font-family="DejaVu Sans, Liberation Sans, sans-serif" font-size="32.6" fill="#111" stroke="none" text-anchor="middle" transform="translate(1341 1780) rotate(-90)" dominant-baseline="central">∅</text>
<line x1="1422.4" y1="1728.9" x2="1466.3" y2="1728.9" stroke-width="1.7"/>
<line x1="1422.4" y1="1788.4" x2="1466.3" y2="1788.4" stroke-width="1.7"/>
<line x1="1428.3" y1="1694.6" x2="1428.3" y2="1822.9" stroke-width="1.7"/>
<polygon points="1428.3,1728.9 1422.6,1706.3 1434,1706.3" fill="#000" stroke="none"/>
<polygon points="1428.3,1788.4 1434,1811 1422.6,1811" fill="#000" stroke="none"/>
<text x="0" y="0" font-family="Liberation Sans, sans-serif" font-size="35.9" fill="#111" stroke="#fff" stroke-width="0.7" textLength="27" lengthAdjust="spacingAndGlyphs" transform="translate(1423.9 1755) rotate(-90)">17</text>
<text x="0" y="0" font-family="DejaVu Sans, Liberation Sans, sans-serif" font-size="32.6" fill="#111" stroke="none" text-anchor="middle" transform="translate(1410 1771) rotate(-90)" dominant-baseline="central">∅</text>
<line x1="2250.4" y1="1567.6" x2="2302" y2="1567.6" stroke-width="2.4"/>
<line x1="2250.4" y1="1604.3" x2="2302" y2="1604.3" stroke-width="2.4"/>
<line x1="2250.4" y1="1630.6" x2="2302" y2="1630.6" stroke-width="2.4"/>
<line x1="2250.4" y1="1646.3" x2="2302" y2="1646.3" stroke-width="2.4"/>
<line x1="2250.4" y1="1871.8" x2="2302" y2="1871.8" stroke-width="2.4"/>
<line x1="2250.4" y1="1887.6" x2="2302" y2="1887.6" stroke-width="2.4"/>
<line x1="2250.4" y1="1912" x2="2302" y2="1912" stroke-width="2.4"/>
<line x1="2250.4" y1="1949.8" x2="2302" y2="1949.8" stroke-width="2.4"/>
<line x1="2250.4" y1="1559.9" x2="2321" y2="1559.9" stroke-width="2.4"/>
<line x1="2250.4" y1="1957.8" x2="2321" y2="1957.8" stroke-width="2.4"/>
<line x1="2301.8" y1="1559.9" x2="2301.8" y2="1957.8" stroke-width="1.7"/>
<line x1="2251" y1="1559.9" x2="2251" y2="1957.8" stroke-width="3.2"/>
<polygon points="2331.1,1551 2699.1,1551 2723.1,1575 2723.1,1943 2699.1,1967 2331.1,1967 2307.1,1943 2307.1,1575" stroke-width="4.4"/>
<circle cx="2515.1" cy="1759" r="193.6" stroke-width="4.6"/>
<circle cx="2515.1" cy="1759" r="113" stroke-width="3.0"/>
<circle cx="2515.1" cy="1759" r="82" stroke-width="3.0"/>
<circle cx="2515.1" cy="1759" r="38.6" stroke-width="3.0"/>
<line x1="2433.1" y1="1757.2" x2="2477.1" y2="1757.2" stroke-width="3.2"/>
<line x1="2553.1" y1="1757.2" x2="2597.1" y2="1757.2" stroke-width="3.2"/>
<line x1="2433.1" y1="1760.8" x2="2476.5" y2="1760.8" stroke-width="1.6"/>
<line x1="2553.7" y1="1760.8" x2="2597.1" y2="1760.8" stroke-width="1.6"/>
<circle cx="2336.5" cy="1580.4" r="12" stroke-width="3.2"/>
<line x1="2325.5" y1="1569.4" x2="2333" y2="1576.9" stroke-width="1.6"/>
<line x1="2334.4" y1="1578.3" x2="2338.6" y2="1582.5" stroke-width="1.6"/>
<line x1="2340" y1="1583.9" x2="2347.5" y2="1591.4" stroke-width="1.6"/>
<line x1="2325.5" y1="1591.4" x2="2333" y2="1583.9" stroke-width="1.6"/>
<line x1="2334.4" y1="1582.5" x2="2338.6" y2="1578.3" stroke-width="1.6"/>
<line x1="2340" y1="1576.9" x2="2347.5" y2="1569.4" stroke-width="1.6"/>
<circle cx="2336.5" cy="1937.6" r="12" stroke-width="3.2"/>
<line x1="2325.5" y1="1926.6" x2="2333" y2="1934.1" stroke-width="1.6"/>
<line x1="2334.4" y1="1935.5" x2="2338.6" y2="1939.7" stroke-width="1.6"/>
<line x1="2340" y1="1941.1" x2="2347.5" y2="1948.6" stroke-width="1.6"/>
<line x1="2325.5" y1="1948.6" x2="2333" y2="1941.1" stroke-width="1.6"/>
<line x1="2334.4" y1="1939.7" x2="2338.6" y2="1935.5" stroke-width="1.6"/>
<line x1="2340" y1="1934.1" x2="2347.5" y2="1926.6" stroke-width="1.6"/>
<circle cx="2693.7" cy="1580.4" r="12" stroke-width="3.2"/>
<line x1="2682.7" y1="1569.4" x2="2690.2" y2="1576.9" stroke-width="1.6"/>
<line x1="2691.6" y1="1578.3" x2="2695.8" y2="1582.5" stroke-width="1.6"/>
<line x1="2697.2" y1="1583.9" x2="2704.7" y2="1591.4" stroke-width="1.6"/>
<line x1="2682.7" y1="1591.4" x2="2690.2" y2="1583.9" stroke-width="1.6"/>
<line x1="2691.6" y1="1582.5" x2="2695.8" y2="1578.3" stroke-width="1.6"/>
<line x1="2697.2" y1="1576.9" x2="2704.7" y2="1569.4" stroke-width="1.6"/>
<circle cx="2693.7" cy="1937.6" r="12" stroke-width="3.2"/>
<line x1="2682.7" y1="1926.6" x2="2690.2" y2="1934.1" stroke-width="1.6"/>
<line x1="2691.6" y1="1935.5" x2="2695.8" y2="1939.7" stroke-width="1.6"/>
<line x1="2697.2" y1="1941.1" x2="2704.7" y2="1948.6" stroke-width="1.6"/>
<line x1="2682.7" y1="1948.6" x2="2690.2" y2="1941.1" stroke-width="1.6"/>
<line x1="2691.6" y1="1939.7" x2="2695.8" y2="1935.5" stroke-width="1.6"/>
<line x1="2697.2" y1="1934.1" x2="2704.7" y2="1926.6" stroke-width="1.6"/>
<circle cx="2602.4" cy="1910.3" r="19.2" stroke-width="3.0"/>
<circle cx="2602.4" cy="1910.3" r="11.4" stroke-width="3.0"/>
<circle cx="2363.8" cy="1846.3" r="19.2" stroke-width="3.0"/>
<circle cx="2363.8" cy="1846.3" r="11.4" stroke-width="3.0"/>
<circle cx="2427.8" cy="1607.7" r="19.2" stroke-width="3.0"/>
<circle cx="2427.8" cy="1607.7" r="11.4" stroke-width="3.0"/>
<circle cx="2666.4" cy="1671.6" r="19.2" stroke-width="3.0"/>
<circle cx="2666.4" cy="1671.6" r="11.4" stroke-width="3.0"/>
<line x1="2332.1" y1="1759" x2="2401.6" y2="1759" stroke-width="1.7"/>
<line x1="2416.1" y1="1759" x2="2423.1" y2="1759" stroke-width="1.7"/>
<line x1="2437.5" y1="1759" x2="2592.7" y2="1759" stroke-width="1.7"/>
<line x1="2607.1" y1="1759" x2="2614.1" y2="1759" stroke-width="1.7"/>
<line x1="2628.6" y1="1759" x2="2698.1" y2="1759" stroke-width="1.7"/>
<line x1="2515.1" y1="1576" x2="2515.1" y2="1645.5" stroke-width="1.7"/>
<line x1="2515.1" y1="1660" x2="2515.1" y2="1667" stroke-width="1.7"/>
<line x1="2515.1" y1="1681.4" x2="2515.1" y2="1836.6" stroke-width="1.7"/>
<line x1="2515.1" y1="1851" x2="2515.1" y2="1858" stroke-width="1.7"/>
<line x1="2515.1" y1="1872.5" x2="2515.1" y2="1942" stroke-width="1.7"/>
<polyline points="2195.5,1519.2 2298.5,1519.2 2326,1550" stroke-width="1.7"/>
<polygon points="2326,1550 2306.7,1536.9 2315.2,1529.3" fill="#000" stroke="none"/>
<text x="2228.7" y="1500.5" font-family="DejaVu Sans, Liberation Sans, sans-serif" font-size="32.6" fill="#111" stroke="none" text-anchor="middle" dominant-baseline="central">∅</text>
<text x="2244.5" y="1510.9" font-family="Liberation Sans, sans-serif" font-size="35.9" fill="#111" stroke="#fff" stroke-width="0.7" textLength="42.3" lengthAdjust="spacingAndGlyphs">160</text>
<polyline points="2834.8,1518.3 2730.8,1518.3 2697,1563" stroke-width="1.7"/>
<polygon points="2693.5,1567.5 2702.6,1546 2711.7,1552.9" fill="#000" stroke="none"/>
<text x="2762" y="1500.5" font-family="DejaVu Sans, Liberation Sans, sans-serif" font-size="32.6" fill="#111" stroke="none" text-anchor="middle" dominant-baseline="central">∅</text>
<text x="2782" y="1511.5" font-family="Liberation Sans, sans-serif" font-size="35.9" fill="#111" stroke="#fff" stroke-width="0.7" textLength="38.5" lengthAdjust="spacingAndGlyphs">145</text>
<polyline points="2892.3,1977.3 2746.2,1977.3 2701.5,1944.5" stroke-width="1.7"/>
<polygon points="2701.5,1944.5 2723.1,1953.3 2716.3,1962.5" fill="#000" stroke="none"/>
<text x="2758.6" y="1970.5" font-family="Liberation Sans, sans-serif" font-size="35.9" fill="#111" stroke="#fff" stroke-width="0.7" textLength="60.9" lengthAdjust="spacingAndGlyphs">4−M8</text>
<text transform="translate(2833 1972) scale(1.95 1.08)" x="0" y="0" text-anchor="middle" font-family="DejaVu Sans, Liberation Sans, sans-serif" font-size="30" fill="#111" stroke="#fff" stroke-width="0.7">↧</text>
<text x="2851" y="1970.5" font-family="Liberation Sans, sans-serif" font-size="35.9" fill="#111" stroke="#fff" stroke-width="0.7" textLength="28.4" lengthAdjust="spacingAndGlyphs">16</text>
<line x1="2305.6" y1="1955.7" x2="2305.6" y2="2104.3" stroke-width="1.7"/>
<line x1="2724.6" y1="1946" x2="2724.6" y2="2104.3" stroke-width="1.7"/>
<line x1="2305.6" y1="2098" x2="2724.6" y2="2098" stroke-width="1.7"/>
<polygon points="2305.6,2098 2328.2,2092.3 2328.2,2103.7" fill="#000" stroke="none"/>
<polygon points="2724.6,2098 2702,2103.7 2702,2092.3" fill="#000" stroke="none"/>
<polygon points="2472.5,2070 2491,2070 2491,2088 2472.5,2088" stroke-width="1.7"/>
<text x="2498.4" y="2088.8" font-family="Liberation Sans, sans-serif" font-size="35.9" fill="#111" stroke="#fff" stroke-width="0.7" textLength="39.9" lengthAdjust="spacingAndGlyphs">120</text>
<text x="90" y="1834" font-family="Noto Serif CJK SC, Liberation Serif, serif" font-size="49.5" fill="#111" stroke="none" letter-spacing="7.5" textLength="161.4" lengthAdjust="spacingAndGlyphs" font-weight="400">注意事项:</text>
<text x="90" y="1884.5" font-family="Liberation Sans, sans-serif" font-size="50" fill="#111" stroke="#fff" stroke-width="0.7" textLength="30" lengthAdjust="spacingAndGlyphs">1.</text>
<text x="125.5" y="1885.5" font-family="Noto Serif CJK SC, Liberation Serif, serif" font-size="49.5" fill="#111" stroke="none" letter-spacing="7.5" textLength="685.9" lengthAdjust="spacingAndGlyphs" font-weight="400">本产品为精密部件，应放在干燥的地方保管</text>
<text x="90" y="1935.7" font-family="Liberation Sans, sans-serif" font-size="50" fill="#111" stroke="#fff" stroke-width="0.7" textLength="30" lengthAdjust="spacingAndGlyphs">2.</text>
<text x="125.5" y="1936.7" font-family="Noto Serif CJK SC, Liberation Serif, serif" font-size="49.5" fill="#111" stroke="none" letter-spacing="7.5" textLength="1588.4" lengthAdjust="spacingAndGlyphs" font-weight="400">首先严格检查电机与行星减速机相连接的个部位尺寸是否匹配，然后再将电机与行星减速机自然连接</text>
<text x="90" y="1987" font-family="Liberation Sans, sans-serif" font-size="50" fill="#111" stroke="#fff" stroke-width="0.7" textLength="30" lengthAdjust="spacingAndGlyphs">3.</text>
<text x="125.5" y="1988" font-family="Noto Serif CJK SC, Liberation Serif, serif" font-size="49.5" fill="#111" stroke="none" letter-spacing="7.5" textLength="1335.7" lengthAdjust="spacingAndGlyphs" font-weight="400">严禁用重物击打，防止轴向力与径向力过大损坏轴承与齿轮而影响减速机的使用功能</text>
<line x1="5.5" y1="2039.8" x2="1344.5" y2="2039.8" stroke-width="2.6"/>
<line x1="5.5" y1="2106.9" x2="1344.5" y2="2106.9" stroke-width="2.6"/>
<line x1="5.5" y1="2174" x2="1344.5" y2="2174" stroke-width="2.6"/>
<line x1="5.5" y1="2241" x2="1344.5" y2="2241" stroke-width="2.6"/>
<line x1="5.5" y1="2307.5" x2="1344.5" y2="2307.5" stroke-width="2.6"/>
<line x1="5.5" y1="2374.6" x2="1344.5" y2="2374.6" stroke-width="2.6"/>
<line x1="371" y1="2039.8" x2="371" y2="2441.6" stroke-width="2.6"/>
<line x1="675" y1="2039.8" x2="675" y2="2441.6" stroke-width="2.6"/>
<line x1="1040.5" y1="2039.8" x2="1040.5" y2="2441.6" stroke-width="2.6"/>
<line x1="1344.5" y1="2039.8" x2="1344.5" y2="2441.6" stroke-width="2.6"/>
<text x="157.1" y="2094.8" font-family="Noto Serif CJK SC, Liberation Serif, serif" font-size="46.5" fill="#111" stroke="none" letter-spacing="6.5" textLength="65.2" lengthAdjust="spacingAndGlyphs" font-weight="400">速比</text>
<text x="761.6" y="2094.8" font-family="Noto Serif CJK SC, Liberation Serif, serif" font-size="46.5" fill="#111" stroke="none" letter-spacing="6.5" textLength="195.6" lengthAdjust="spacingAndGlyphs" font-weight="400">正常使用寿命</text>
<text x="1136.7" y="2087.3" font-family="Liberation Sans, sans-serif" font-size="40.2" fill="#111" stroke="#fff" stroke-width="0.7" textLength="112.2" lengthAdjust="spacingAndGlyphs">20000 h</text>
<text x="124.5" y="2161.9" font-family="Noto Serif CJK SC, Liberation Serif, serif" font-size="46.5" fill="#111" stroke="none" letter-spacing="6.5" textLength="130.4" lengthAdjust="spacingAndGlyphs" font-weight="400">额定扭距</text>
<text x="794.2" y="2161.9" font-family="Noto Serif CJK SC, Liberation Serif, serif" font-size="46.5" fill="#111" stroke="none" letter-spacing="6.5" textLength="130.4" lengthAdjust="spacingAndGlyphs" font-weight="400">传递效率</text>
<text x="444.9" y="2154.4" font-family="Liberation Sans, sans-serif" font-size="40.2" fill="#111" stroke="#fff" stroke-width="0.7" textLength="156.5" lengthAdjust="spacingAndGlyphs">360−550Nm</text>
<text x="1160.2" y="2154.4" font-family="Liberation Sans, sans-serif" font-size="40.2" fill="#111" stroke="#fff" stroke-width="0.7" textLength="65" lengthAdjust="spacingAndGlyphs">94%</text>
<text x="124.5" y="2229" font-family="Noto Serif CJK SC, Liberation Serif, serif" font-size="46.5" fill="#111" stroke="none" letter-spacing="6.5" textLength="130.4" lengthAdjust="spacingAndGlyphs" font-weight="400">最大扭距</text>
<text x="826.8" y="2229" font-family="Noto Serif CJK SC, Liberation Serif, serif" font-size="46.5" fill="#111" stroke="none" letter-spacing="6.5" textLength="65.2" lengthAdjust="spacingAndGlyphs" font-weight="400">噪音</text>
<text x="437.3" y="2221.5" font-family="Liberation Sans, sans-serif" font-size="40.2" fill="#111" stroke="#fff" stroke-width="0.7" textLength="171.7" lengthAdjust="spacingAndGlyphs">720−1100Nm</text>
<text x="1161.8" y="2221.5" font-family="Liberation Sans, sans-serif" font-size="40.2" fill="#111" stroke="#fff" stroke-width="0.7" textLength="62" lengthAdjust="spacingAndGlyphs">72dB</text>
<text x="91.9" y="2296" font-family="Noto Serif CJK SC, Liberation Serif, serif" font-size="46.5" fill="#111" stroke="none" letter-spacing="6.5" textLength="195.6" lengthAdjust="spacingAndGlyphs" font-weight="400">额定输入转数</text>
<text x="794.2" y="2296" font-family="Noto Serif CJK SC, Liberation Serif, serif" font-size="46.5" fill="#111" stroke="none" letter-spacing="6.5" textLength="130.4" lengthAdjust="spacingAndGlyphs" font-weight="400">环境温度</text>
<text x="454" y="2288.5" font-family="Liberation Sans, sans-serif" font-size="40.2" fill="#111" stroke="#fff" stroke-width="0.7" textLength="138.2" lengthAdjust="spacingAndGlyphs">3000r/min</text>
<text x="1081" y="2288.5" font-family="Liberation Sans, sans-serif" font-size="40.2" fill="#111" stroke="#fff" stroke-width="0.7" textLength="223.5" lengthAdjust="spacingAndGlyphs">−20°C− +90°C</text>
<text x="91.9" y="2362.5" font-family="Noto Serif CJK SC, Liberation Serif, serif" font-size="46.5" fill="#111" stroke="none" letter-spacing="6.5" textLength="195.6" lengthAdjust="spacingAndGlyphs" font-weight="400">最大输入转数</text>
<text x="826.8" y="2362.5" font-family="Noto Serif CJK SC, Liberation Serif, serif" font-size="46.5" fill="#111" stroke="none" letter-spacing="6.5" textLength="65.2" lengthAdjust="spacingAndGlyphs" font-weight="400">惯量</text>
<text x="454" y="2355" font-family="Liberation Sans, sans-serif" font-size="40.2" fill="#111" stroke="#fff" stroke-width="0.7" textLength="138.2" lengthAdjust="spacingAndGlyphs">6000r/min</text>
<text x="124.5" y="2429.6" font-family="Noto Serif CJK SC, Liberation Serif, serif" font-size="46.5" fill="#111" stroke="none" letter-spacing="6.5" textLength="130.4" lengthAdjust="spacingAndGlyphs" font-weight="400">回程间隙</text>
<text x="826.8" y="2429.6" font-family="Noto Serif CJK SC, Liberation Serif, serif" font-size="46.5" fill="#111" stroke="none" letter-spacing="6.5" textLength="65.2" lengthAdjust="spacingAndGlyphs" font-weight="400">重量</text>
<text x="440.3" y="2422.1" font-family="Liberation Sans, sans-serif" font-size="40.2" fill="#111" stroke="#fff" stroke-width="0.7" textLength="165.7" lengthAdjust="spacingAndGlyphs">12−15arcmin</text>
<text x="524.5" y="2092.8" font-family="Liberation Sans, sans-serif" font-size="47.5" fill="#000" stroke="none" text-anchor="middle">1:15-1:100</text>
<line x1="1621" y1="2250.6" x2="3501" y2="2250.6" stroke-width="2.6"/>
<line x1="1621" y1="2250.6" x2="1621" y2="2441.6" stroke-width="2.6"/>
<line x1="1621" y1="2345.5" x2="2867.5" y2="2345.5" stroke-width="2.6"/>
<line x1="1791.5" y1="2250.6" x2="1791.5" y2="2441.6" stroke-width="2.6"/>
<line x1="2461.2" y1="2250.6" x2="2461.2" y2="2441.6" stroke-width="2.6"/>
<line x1="2697" y1="2250.6" x2="2697" y2="2441.6" stroke-width="2.6"/>
<line x1="2867.5" y1="2250.6" x2="2867.5" y2="2441.6" stroke-width="2.6"/>
<text x="1651.5" y="2319" font-family="Noto Serif CJK SC, Liberation Serif, serif" font-size="62" fill="#111" stroke="none" textLength="43.5" lengthAdjust="spacingAndGlyphs" font-weight="400">机</text>
<text x="1724" y="2319" font-family="Noto Serif CJK SC, Liberation Serif, serif" font-size="62" fill="#111" stroke="none" textLength="42" lengthAdjust="spacingAndGlyphs" font-weight="400">型</text>
<text x="1655" y="2420" font-family="Noto Serif CJK SC, Liberation Serif, serif" font-size="62" fill="#111" stroke="none" textLength="39" lengthAdjust="spacingAndGlyphs" font-weight="400">图</text>
<text x="1724" y="2420" font-family="Noto Serif CJK SC, Liberation Serif, serif" font-size="62" fill="#111" stroke="none" textLength="42" lengthAdjust="spacingAndGlyphs" font-weight="400">号</text>
<text x="1998.8" y="2318.2" font-family="Liberation Sans, sans-serif" font-size="59.5" fill="#111" stroke="#fff" stroke-width="0.7" textLength="249.5" lengthAdjust="spacingAndGlyphs">ZPGH142T−L2</text>
<text x="1800.9" y="2412.3" font-family="Liberation Sans, sans-serif" font-size="59.5" fill="#111" stroke="#fff" stroke-width="0.7" textLength="631.6" lengthAdjust="spacingAndGlyphs">ZPGH142T−L2 22−110−145−M8</text>
<text x="2485" y="2327" font-family="Noto Serif CJK SC, Liberation Serif, serif" font-size="62" fill="#111" stroke="none" textLength="41" lengthAdjust="spacingAndGlyphs" font-weight="400">绘</text>
<text x="2532.7" y="2327" font-family="Noto Serif CJK SC, Liberation Serif, serif" font-size="62" fill="#111" stroke="none" textLength="41" lengthAdjust="spacingAndGlyphs" font-weight="400">制</text>
<text x="2580.4" y="2327" font-family="Noto Serif CJK SC, Liberation Serif, serif" font-size="62" fill="#111" stroke="none" textLength="41" lengthAdjust="spacingAndGlyphs" font-weight="400">日</text>
<text x="2628.1" y="2327" font-family="Noto Serif CJK SC, Liberation Serif, serif" font-size="62" fill="#111" stroke="none" textLength="41" lengthAdjust="spacingAndGlyphs" font-weight="400">期</text>
<text x="2740.5" y="2327" font-family="Noto Serif CJK SC, Liberation Serif, serif" font-size="62" fill="#111" stroke="none" textLength="41" lengthAdjust="spacingAndGlyphs" font-weight="400">绘</text>
<text x="2788.2" y="2327" font-family="Noto Serif CJK SC, Liberation Serif, serif" font-size="62" fill="#111" stroke="none" textLength="41" lengthAdjust="spacingAndGlyphs" font-weight="400">图</text>
<text x="2476" y="2413.4" font-family="Liberation Sans, sans-serif" font-size="57" fill="#111" stroke="#fff" stroke-width="0.7" textLength="186" lengthAdjust="spacingAndGlyphs">2022.1.10</text>
<text x="2754.7" y="2412" font-family="Liberation Sans, sans-serif" font-size="59.5" fill="#111" stroke="#fff" stroke-width="0.7" textLength="70" lengthAdjust="spacingAndGlyphs">CZH</text>
<text x="2905" y="2380" font-family="Noto Serif CJK SC, Liberation Serif, serif" font-size="105" fill="#111" stroke="none" textLength="62" lengthAdjust="spacingAndGlyphs" font-weight="500">行</text>
<text x="2976.6" y="2380" font-family="Noto Serif CJK SC, Liberation Serif, serif" font-size="105" fill="#111" stroke="none" textLength="62" lengthAdjust="spacingAndGlyphs" font-weight="500">星</text>
<text x="3048.2" y="2380" font-family="Noto Serif CJK SC, Liberation Serif, serif" font-size="105" fill="#111" stroke="none" textLength="62" lengthAdjust="spacingAndGlyphs" font-weight="500">减</text>
<text x="3119.8" y="2380" font-family="Noto Serif CJK SC, Liberation Serif, serif" font-size="105" fill="#111" stroke="none" textLength="62" lengthAdjust="spacingAndGlyphs" font-weight="500">速</text>
<text x="3191.4" y="2380" font-family="Noto Serif CJK SC, Liberation Serif, serif" font-size="105" fill="#111" stroke="none" textLength="62" lengthAdjust="spacingAndGlyphs" font-weight="500">机</text>
<text x="3263" y="2380" font-family="Noto Serif CJK SC, Liberation Serif, serif" font-size="105" fill="#111" stroke="none" textLength="62" lengthAdjust="spacingAndGlyphs" font-weight="500">外</text>
<text x="3334.6" y="2380" font-family="Noto Serif CJK SC, Liberation Serif, serif" font-size="105" fill="#111" stroke="none" textLength="62" lengthAdjust="spacingAndGlyphs" font-weight="500">形</text>
<text x="3406.2" y="2380" font-family="Noto Serif CJK SC, Liberation Serif, serif" font-size="105" fill="#111" stroke="none" textLength="62" lengthAdjust="spacingAndGlyphs" font-weight="500">图</text>
<polyline points="620.7,1104 553,1065.4" stroke-width="2.9"/>
<path d="M553,1065.4 C551.5,1065.1 547.9,1063.4 544.3,1063.6 C540.6,1063.8 535.5,1064.5 531.2,1066.5 C526.8,1068.4 522.2,1071.2 518.1,1075.2 C513.9,1079.2 509.3,1085 506,1090.5 C502.8,1095.9 500.1,1102.1 498.4,1108 C496.7,1113.8 495.8,1120.3 495.8,1125.4 C495.7,1130.5 496.4,1135 498,1138.5 C499.5,1142 503.8,1145.1 504.9,1146.4" stroke-width="2.9"/>
<polyline points="504.9,1146.4 573.8,1188.3" stroke-width="2.9"/>
<path d="M620.7,1105.8 C623.3,1102.5 630.2,1092.3 636,1086.1 C641.8,1079.9 648.8,1073.7 655.7,1068.6 C662.6,1063.5 670.2,1059 677.5,1055.5 C684.8,1052.1 692.8,1049.5 699.4,1047.9 C705.9,1046.2 711.9,1046 716.8,1045.7 C721.7,1045.4 726.8,1046.2 728.8,1046.4" stroke-width="2.9"/>
<path d="M573.8,1188.8 C572.5,1192.1 568.2,1201.5 566.1,1208.4 C564,1215.4 562.5,1223 561.3,1230.3 C560.1,1237.6 559.3,1245.2 559.1,1252.1 C558.9,1259 559.2,1265.6 560,1271.8 C560.8,1278 562.4,1284.2 563.9,1289.3 C565.5,1294.4 567.6,1298.7 569.4,1302.4 C571.2,1306 573.9,1309.6 574.8,1311.1" stroke-width="2.9"/>
<polyline points="574.8,1300 574.8,1158.2 595.6,1122.2 799.8,1004.9 840.2,1028.2 840.2,1063.2" stroke-width="2.9"/>
<polyline points="574.8,1158.2 596.3,1168 596.3,1213.9" stroke-width="2.9"/>
<polyline points="595.6,1122.2 615.3,1134.2 655.7,1112.3" stroke-width="2.9"/>
<polyline points="615.3,1134.2 596.3,1168" stroke-width="2.9"/>
<polyline points="817.3,1017.3 782.4,1038.1" stroke-width="2.9"/>
<path d="M782.4,1038.1 C784.2,1038.3 790,1038.9 793.3,1039.8 C796.6,1040.7 799.1,1042.3 802,1043.5 C804.9,1044.8 809.3,1046.6 810.8,1047.2" stroke-width="2.9"/>
<polyline points="782.4,1038.1 893.8,1102.5" stroke-width="2.9"/>
<ellipse cx="819.5" cy="1040.7" rx="8.3" ry="13.1" stroke-width="2.9" transform="rotate(22 819.5 1040.7)"/>
<ellipse cx="618.1" cy="1158.6" rx="8.3" ry="13.5" stroke-width="2.9" transform="rotate(22 618.1 1158.6)"/>
<path d="M655.7,1112.3 C653.5,1115.2 645.3,1124.7 642.6,1129.8 C639.8,1134.9 639.8,1138.5 639.3,1142.9 C638.7,1147.3 640,1152 639.3,1156 C638.6,1160 637.6,1162.9 634.9,1166.9 C632.2,1170.9 627.6,1176 622.9,1180 C618.2,1184 609.3,1189.1 606.5,1191" stroke-width="2.9"/>
<polyline points="606.5,1191 596.3,1213.9" stroke-width="2.9"/>
<polyline points="655.7,1112.3 767.1,1176.1" stroke-width="2.9"/>
<polyline points="640.8,1134.6 751.1,1197.5" stroke-width="2.9"/>
<polyline points="639.5,1154.3 750.7,1216.5" stroke-width="2.9"/>
<polyline points="622.9,1181.3 733.2,1244.7" stroke-width="2.9"/>
<polyline points="606.5,1191 717.9,1254.3" stroke-width="2.9"/>
<polyline points="596.3,1213.9 708.1,1278.3" stroke-width="2.9"/>
<polyline points="892.7,1103.1 766,1175.7" stroke-width="1.8"/>
<path d="M766,1175.7 C764.2,1177.1 757.7,1180.9 755.1,1184.4 C752.4,1187.9 750.9,1191 750,1196.4 C749.2,1201.9 750.8,1211 750,1217.2 C749.2,1223.4 748.2,1228.9 745.2,1233.6 C742.2,1238.2 736.9,1241.6 732.1,1245.1 C727.4,1248.7 720.7,1251.3 716.8,1254.7 C713,1258.2 710.8,1261.7 709.2,1265.7 C707.5,1269.7 707.3,1276.6 706.9,1278.8" stroke-width="1.8"/>
<polyline points="706.9,1278.8 706.9,1300" stroke-width="1.8"/>
<polyline points="894.9,1103.1 768.2,1175.7" stroke-width="1.8"/>
<path d="M768.2,1175.7 C766.3,1177.1 759.9,1180.9 757.2,1184.4 C754.6,1187.9 753.1,1191 752.2,1196.4 C751.4,1201.9 753,1211 752.2,1217.2 C751.4,1223.4 750.4,1228.9 747.4,1233.6 C744.4,1238.2 739,1241.6 734.3,1245.1 C729.6,1248.7 722.8,1251.3 719,1254.7 C715.2,1258.2 713,1261.7 711.4,1265.7 C709.7,1269.7 709.5,1276.6 709.1,1278.8" stroke-width="1.8"/>
<polyline points="709.1,1278.8 709.1,1300" stroke-width="1.8"/>
<polyline points="768.2,1176.8 817.3,1205.2 797.7,1226.3" stroke-width="2.9"/>
<polyline points="752.2,1203 797.7,1227" stroke-width="2.9"/>
<path d="M797.7,1227 C800,1231.2 808.8,1245.9 811.9,1252.1 C814.9,1258.3 816.2,1260.1 816.2,1264.1 C816.2,1268.1 815.7,1273.2 811.9,1276.2 C808,1279.1 796.4,1280.7 793.3,1281.6" stroke-width="2.9"/>
<polyline points="752.2,1217.6 807.5,1249.3" stroke-width="2.9"/>
<polyline points="734.3,1245.6 793.3,1281" stroke-width="2.9"/>
<polyline points="719.5,1255.2 767.1,1282.7 793.3,1281.4" stroke-width="2.9"/>
<polyline points="708.5,1278.8 756.2,1306.3 767.1,1282.7" stroke-width="2.9"/>
<path d="M817.3,1205.2 C821.3,1204.4 833.7,1202.8 841.3,1200.8 C849,1198.8 855.9,1195.9 863.2,1193.1 C870.5,1190.4 878.5,1187.3 885,1184.4 C891.6,1181.5 896.7,1179.3 902.5,1175.7 C908.3,1172 914.9,1167.3 920,1162.6 C925.1,1157.8 929.3,1152.2 933.1,1147.3 C936.9,1142.4 941.3,1135.4 942.9,1133.1" stroke-width="2.9"/>
<polyline points="840.2,1063.2 898.1,1101.4 970,1140.7" stroke-width="2.9"/>
<polyline points="893.8,1102.5 942.9,1133.1 959.3,1136.8" stroke-width="2.9"/>
<path d="M824.8,1464.2 C823.1,1463.5 818.8,1463.1 814.9,1459.8 C811.1,1456.6 805.5,1451.1 801.8,1444.5 C798.2,1438 794.9,1429.3 793.1,1420.5 C791.3,1411.8 790.9,1402.3 790.9,1392.1 C790.9,1381.9 791.3,1370.3 793.1,1359.4 C794.9,1348.4 798.2,1337.2 801.8,1326.6 C805.5,1316 809.5,1306.9 814.9,1296 C820.4,1285.1 827,1272.3 834.6,1261.1 C842.3,1249.8 851,1238.5 860.8,1228.3 C870.7,1218.1 883,1207.4 893.6,1199.9 C904.1,1192.4 914.7,1187.3 924.2,1183.5 C933.6,1179.7 942.4,1177.7 950.4,1177 C958.4,1176.2 966.4,1177.4 972.2,1179.1 C978,1180.9 983.1,1185.9 985.3,1187.2" stroke-width="2.9"/>
<path d="M824.8,1457.7 C823.5,1455.5 819.5,1450.4 817.1,1444.5 C814.8,1438.7 812,1430.3 810.6,1422.7 C809.1,1415.1 808.4,1407.4 808.4,1398.7 C808.4,1389.9 808.9,1380.1 810.6,1370.3 C812.2,1360.4 815.9,1347 818.2,1339.7 C820.6,1332.4 823.7,1328.8 824.8,1326.6" stroke-width="2.9"/>
<path d="M824.8,1326.6 C827.9,1320.8 837.3,1301.8 843.3,1291.6 C849.4,1281.4 855.7,1272.5 860.8,1265.4 C865.9,1258.3 867,1257.1 873.9,1249 C880.8,1241 892.5,1225.9 902.3,1217.4 C912.2,1208.8 923.4,1202.4 932.9,1197.7 C942.4,1193 951.7,1190.5 959.1,1189 C966.6,1187.4 974.6,1188.4 977.7,1188.3" stroke-width="2.9"/>
<path d="M860.8,1261.1 C860.6,1264.3 861,1274.7 859.7,1280.7 C858.5,1286.7 857.7,1292 853.2,1297.1 C848.6,1302.2 837.2,1306.4 832.4,1311.3 C827.7,1316.2 826.1,1324 824.8,1326.6" stroke-width="2.9"/>
<polyline points="824.8,1326.6 824.8,1464.2" stroke-width="2.9"/>
<polyline points="977.7,1188.3 873.9,1249" stroke-width="2.9"/>
<polyline points="941.6,1132.2 959.1,1134.4 990.8,1151.8" stroke-width="2.9"/>
<path d="M959.1,1134.4 C961.3,1138.4 968.8,1152.5 972.2,1158.4 C975.7,1164.3 977.5,1167.6 979.9,1169.8 C982.2,1171.9 985.3,1171.2 986.4,1171.5" stroke-width="2.9"/>
<polyline points="986.4,1171.5 990.8,1152.9" stroke-width="2.9"/>
<path d="M990.8,1151.8 C992.4,1154.4 997.9,1161.7 1000.6,1167.1 C1003.4,1172.6 1005.4,1179.1 1007.2,1184.6 C1009,1190.1 1010.8,1197.4 1011.5,1199.9" stroke-width="2.9"/>
<polyline points="972.2,1158.4 985.3,1166" stroke-width="1.6"/>
<polyline points="977.7,1188.3 1038.8,1221.3" stroke-width="3.4"/>
<polyline points="1044.3,1222.8 1169.9,1295.4" stroke-width="2.9"/>
<polyline points="1018.1,1231.6 1037.8,1221.7 1044.3,1222.8 1044.3,1244.7" stroke-width="2.9"/>
<polyline points="1018.1,1231.6 1044.3,1245.3 1091.3,1273.5" stroke-width="3.0"/>
<path d="M1026.8,1237 C1027.2,1236.3 1027.9,1233.5 1029,1232.7 C1030.1,1231.9 1032.5,1231.3 1033.4,1232.2 C1034.3,1233.1 1034.3,1237.1 1034.5,1238.1" stroke-width="1.8"/>
<path d="M1169.9,1295.4 C1172.3,1297.3 1179.2,1301 1184.1,1306.9 C1189,1312.9 1195,1323 1199.4,1331 C1203.8,1339 1207.8,1346.6 1210.3,1355 C1212.9,1363.4 1213.6,1371.4 1214.7,1381.2 C1215.8,1391 1216.6,1403.4 1216.9,1414 C1217.1,1424.5 1216.5,1433.6 1216.2,1444.5 C1215.9,1455.5 1215.3,1474 1215.1,1479.9" stroke-width="2.9"/>
<path d="M1215.8,1444.5 C1214.9,1447.8 1211.8,1458.3 1210.8,1464.2 C1209.7,1470.1 1209.5,1477.3 1209.2,1479.9" stroke-width="2.9"/>
<path d="M1091.3,1274.2 C1093.3,1277.1 1099.1,1286.2 1103.3,1291.6 C1107.5,1297.1 1112.4,1303.1 1116.4,1306.9 C1120.4,1310.8 1125.5,1313.3 1127.3,1314.6" stroke-width="2.9"/>
<polyline points="1127.3,1314.6 1132.1,1313.5 1140.4,1301.5" stroke-width="2.9"/>
<path d="M1140.4,1301.5 C1141.9,1302.8 1146.2,1307.4 1149.2,1309.6 C1152.1,1311.7 1155.7,1313.9 1157.9,1314.6 C1160.1,1315.2 1161.5,1313.7 1162.3,1313.5" stroke-width="2.9"/>
<polyline points="1162.3,1313.5 1169.9,1296" stroke-width="2.9"/>
<polyline points="1116.4,1304.7 1129.5,1312.4" stroke-width="1.6"/>
<polyline points="1149.2,1306.9 1161.2,1313" stroke-width="1.6"/>
<path d="M1145.9,1479.9 C1149,1478.5 1157.7,1473.7 1164.4,1471.2 C1171.2,1468.6 1178.8,1466 1186.3,1464.6 C1193.8,1463.3 1205.4,1463.4 1209.2,1463.1" stroke-width="2.9"/>
<path d="M1015.9,1317.9 C1020.3,1316.4 1033.4,1313.1 1042.1,1309.1 C1050.9,1305.1 1060.1,1299.7 1068.3,1293.8 C1076.5,1288 1087.4,1277.4 1091.3,1274.2" stroke-width="2.9"/>
<polygon points="940.6,1275.3 916.5,1289.5 916.5,1315.7 940.6,1301.5" stroke-width="2.9"/>
<ellipse cx="929" cy="1297.1" rx="4.8" ry="7.9" stroke-width="2.9" transform="rotate(25 929 1297.1)"/>
<polyline points="867.4,1254.5 916.5,1289.5" stroke-width="2.9"/>
<polyline points="861.3,1265.9 916.5,1297.1" stroke-width="2.9"/>
<polyline points="940.6,1275.3 1015.9,1317.9" stroke-width="2.9"/>
<polyline points="940.6,1287.7 1031.2,1343" stroke-width="2.9"/>
<polyline points="940.6,1301.5 1041,1358.3" stroke-width="2.9"/>
<polyline points="916.5,1315.7 1017,1372.5" stroke-width="2.9"/>
<polyline points="853.2,1298.2 1019.2,1392.1" stroke-width="2.9"/>
<polyline points="832.4,1311.7 989.7,1404.1" stroke-width="2.9"/>
<polyline points="824.8,1330.5 982.1,1420.5" stroke-width="2.9"/>
<polyline points="1015.9,1317.9 1031.2,1343" stroke-width="2.9"/>
<path d="M1031.2,1343 C1032.7,1345 1038.2,1351.7 1039.9,1355 C1041.6,1358.3 1042.4,1360.3 1041.5,1362.6 C1040.6,1365 1038.6,1367.5 1034.5,1369.2 C1030.4,1370.8 1019.9,1371.9 1017,1372.5" stroke-width="2.9"/>
<path d="M1017,1372.5 C1017.5,1374.5 1019.9,1381.2 1020.3,1384.5 C1020.6,1387.8 1020.6,1389.6 1019.2,1392.1 C1017.7,1394.7 1016.5,1397.8 1011.5,1399.8 C1006.6,1401.8 993.3,1403.4 989.7,1404.1" stroke-width="2.9"/>
<polyline points="989.7,1404.1 982.1,1407.4 983.1,1420.5 1009.4,1470.8 1012.6,1479.9" stroke-width="2.9"/>
<path d="M780,1470.8 C782.2,1470.3 789.1,1468.6 793.1,1468.1 C797.1,1467.7 800.8,1467.6 804,1468.1 C807.3,1468.6 812,1469.2 812.8,1471.2 C813.5,1473.2 809.1,1478.5 808.4,1479.9" stroke-width="2.9"/>
<polyline points="824.8,1464.2 860.8,1479.9" stroke-width="3.4"/>
<polyline points="574.9,1300 574.9,1395 616.4,1418 647.4,1400.5" stroke-width="2.9"/>
<polyline points="596,1360.1 596,1407" stroke-width="2.9"/>
<polyline points="596,1360.1 757.7,1452.9" stroke-width="2.9"/>
<polyline points="601.5,1368.2 647.4,1400 712.9,1436.5 765.3,1465.4 800.3,1486.8 815.6,1488.9 850.5,1479.1" stroke-width="2.9"/>
<ellipse cx="617.2" cy="1392.8" rx="7.2" ry="12" stroke-width="2.9" transform="rotate(22 617.2 1392.8)"/>
<polyline points="706.9,1300 706.9,1424.5" stroke-width="1.8"/>
<polyline points="709.1,1300 709.1,1424.5" stroke-width="1.8"/>
<path d="M706.9,1424.5 C707.5,1425.6 709,1429.2 710.7,1431.1 C712.5,1432.9 716.2,1434.7 717.3,1435.4" stroke-width="1.8"/>
<path d="M756.6,1306.6 C758.4,1312.7 764.8,1330.2 767.5,1343.7 C770.2,1357.2 773,1373.5 773,1387.4 C773,1401.2 770.1,1416.1 767.5,1426.7 C765,1437.3 759.3,1446.7 757.7,1450.7" stroke-width="2.9"/>
<polyline points="757.7,1450.7 765.3,1465.4" stroke-width="2.9"/>
<path d="M765.3,1465.4 C768.2,1465.2 777,1464.5 782.8,1464.3 C788.6,1464 795.5,1463.4 800.3,1463.8 C805,1464.3 808.8,1465.6 811.2,1467.1 C813.6,1468.6 816.1,1469.7 814.5,1472.6 C812.8,1475.5 803.6,1482.6 801.4,1484.6" stroke-width="2.9"/>
<polyline points="773,1468.6 801.4,1484.6" stroke-width="2.9"/>
<polyline points="798.1,1467.1 811.2,1474.7" stroke-width="1.6"/>
<path d="M825,1457.3 C829.2,1459.8 843.7,1467.8 850.5,1472.6 C857.3,1477.3 860.7,1479.8 865.8,1485.7 C870.9,1491.5 876.7,1500.2 881.1,1507.5 C885.5,1514.8 889.3,1522.8 892,1529.4 C894.8,1535.9 896.2,1541.4 897.5,1546.8 C898.8,1552.3 899.3,1557 899.7,1562.1 C900,1567.2 899.7,1574.9 899.7,1577.4" stroke-width="3.6"/>
<path d="M825,1462.1 C829.2,1464.6 843.9,1472.7 850.5,1477.4 C857.1,1482 860,1484.5 864.7,1490 C869.5,1495.6 874.9,1503.9 878.9,1510.8 C882.9,1517.7 887.1,1528.1 888.7,1531.5" stroke-width="1.6"/>
<path d="M893.1,1540.3 C893,1545.4 892.5,1559.9 892.7,1570.9 C892.9,1581.8 893.2,1597.4 894.2,1605.8 C895.2,1614.2 897.8,1618.6 898.6,1621.1" stroke-width="2.9"/>
<polyline points="899.7,1577.4 899.7,1621.1" stroke-width="2.9"/>
<polyline points="983.8,1420.1 1011.1,1476.9 1011.1,1649.9" stroke-width="2.9"/>
<polyline points="1011.1,1476.9 1060,1505.3 1067.9,1509.7" stroke-width="2.9"/>
<polyline points="825,1328.4 825,1457.3" stroke-width="2.9"/>
<polyline points="893.5,1569.6 859.7,1589.2 859.7,1672.2 1043.1,1777.1 1067.2,1777.1 1249.6,1672.2 1249.6,1589.2 1216.8,1569.6" stroke-width="2.9"/>
<polyline points="859.7,1604.5 1043.1,1709.4 1067.2,1709.4 1248.5,1604.5" stroke-width="2.9"/>
<polyline points="1043.1,1709.4 1043.1,1777.1" stroke-width="2.9"/>
<polyline points="1067.2,1709.4 1067.2,1777.1" stroke-width="2.9"/>
<polyline points="900.1,1575 1010.4,1637.7" stroke-width="3.6"/>
<path d="M1010.4,1637.7 C1014,1638.4 1024.9,1641.1 1032.2,1642.1 C1039.5,1643 1046.8,1643.5 1054.1,1643.4 C1061.3,1643.3 1068.6,1642.8 1075.9,1641.6 C1083.2,1640.5 1094.1,1637.3 1097.8,1636.4" stroke-width="3.6"/>
<polyline points="1097.8,1636.4 1211.3,1572.8" stroke-width="3.6"/>
<path d="M893.5,1569.6 C893.5,1575 893,1594.3 893.5,1602.3 C894,1610.3 895.3,1614.3 896.4,1617.6 C897.4,1620.9 899.5,1621.3 900.1,1622" stroke-width="2.9"/>
<polyline points="900.1,1575 900.1,1622" stroke-width="2.9"/>
<polyline points="900.1,1622 1011.5,1685.3" stroke-width="1.6"/>
<path d="M1011.5,1685.3 C1014.9,1685.9 1025.1,1688.2 1032.2,1689 C1039.3,1689.8 1046.8,1690.2 1054.1,1690.1 C1061.3,1690.1 1068.6,1689.6 1075.9,1688.6 C1083.2,1687.6 1094.1,1685 1097.8,1684.2" stroke-width="1.6"/>
<polyline points="1097.8,1684.2 1209.2,1620.9" stroke-width="1.6"/>
<polyline points="900.1,1623.9 1011.5,1687.3" stroke-width="1.6"/>
<path d="M1011.5,1687.3 C1014.9,1687.9 1025.1,1690.2 1032.2,1691 C1039.3,1691.8 1046.8,1692.2 1054.1,1692.1 C1061.3,1692 1068.6,1691.6 1075.9,1690.6 C1083.2,1689.6 1094.1,1686.9 1097.8,1686.2" stroke-width="1.6"/>
<polyline points="1097.8,1686.2 1209.2,1622.9" stroke-width="1.6"/>
<polyline points="1011.5,1480 1011.5,1685.3" stroke-width="2.9"/>
<polyline points="1097.3,1521.5 1097.3,1684.2" stroke-width="2.9"/>
<polyline points="1209.2,1480 1209.2,1619.8" stroke-width="2.9"/>
<path d="M1215.3,1480 C1215.4,1492 1216.3,1536.8 1216.1,1552.1 C1216,1567.4 1215.4,1561.9 1214.6,1571.7 C1213.8,1581.6 1212.3,1602.9 1211.3,1611.1 C1210.4,1619.3 1209.5,1619.3 1209.2,1620.9" stroke-width="2.9"/>
<path d="M1059.5,1504.9 C1062.6,1506.4 1071.9,1511.1 1078.1,1513.9 C1084.3,1516.6 1093.6,1520.2 1096.7,1521.5" stroke-width="2.9"/>
<path d="M1096.7,1521.5 C1098.7,1519.3 1104.1,1512.6 1108.7,1508.4 C1113.2,1504.2 1117.8,1501.1 1124,1496.4 C1130.2,1491.6 1142.2,1482.7 1145.8,1480" stroke-width="2.9"/>
<ellipse cx="1041" cy="1561.5" rx="21.4" ry="11.6" stroke-width="2.9"/>
<ellipse cx="1187.8" cy="1653.2" rx="9.2" ry="14.9" stroke-width="2.9" transform="rotate(22 1187.8 1653.2)"/>
</g>
</svg>
</body></html>
